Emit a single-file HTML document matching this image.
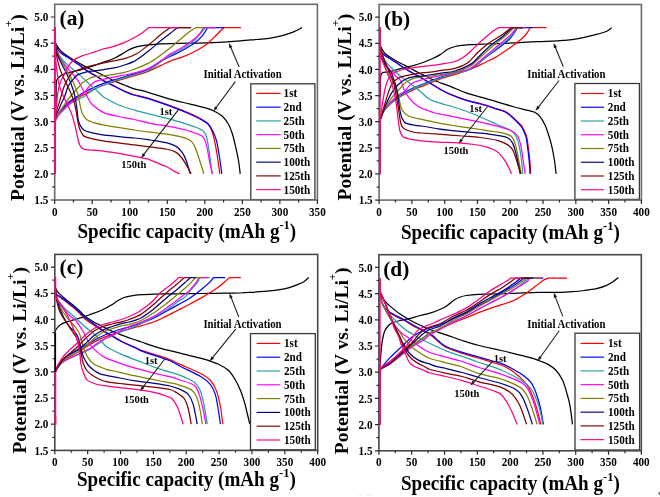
<!DOCTYPE html><html><head><meta charset="utf-8"><style>html,body{margin:0;padding:0;background:#fff;width:660px;height:497px;overflow:hidden}svg{display:block}</style></head><body>
<svg width="660" height="497" viewBox="0 0 660 497" font-family="'Liberation Serif', 'Times New Roman', serif" font-weight="bold" fill="#000">
<defs>
<clipPath id="clipa"><rect x="54.7" y="4.3" width="262.7" height="195.7"/></clipPath>
<clipPath id="clipb"><rect x="379.1" y="4.5" width="262.29999999999995" height="195.6"/></clipPath>
<clipPath id="clipc"><rect x="54.8" y="254.4" width="262.9" height="195.99999999999997"/></clipPath>
<clipPath id="clipd"><rect x="378.9" y="254.7" width="262.4" height="196.10000000000002"/></clipPath>
</defs>
<rect width="660" height="497" fill="#fff"/>
<g clip-path="url(#clipa)"><path d="M55.30 42.50C55.70 43.22 56.85 45.48 57.70 46.80C58.55 48.12 59.03 49.03 60.40 50.40C61.77 51.77 63.78 53.48 65.90 55.00C68.02 56.52 70.40 57.85 73.10 59.50C75.80 61.15 79.62 63.50 82.10 64.90C84.58 66.30 85.50 66.67 88.00 67.90C90.50 69.13 94.07 70.82 97.10 72.30C100.13 73.78 103.17 75.28 106.20 76.80C109.23 78.32 112.27 80.03 115.30 81.40C118.33 82.77 121.37 83.80 124.40 85.00C127.43 86.20 129.57 87.38 133.50 88.60C137.43 89.82 141.90 90.55 148.00 92.30C154.10 94.05 163.07 97.13 170.10 99.10C177.13 101.07 184.17 102.58 190.20 104.10C196.23 105.62 202.27 107.02 206.30 108.20C210.33 109.38 211.72 109.87 214.40 111.20C217.08 112.53 220.05 114.02 222.40 116.20C224.75 118.38 226.82 121.28 228.50 124.30C230.18 127.32 231.33 130.62 232.50 134.30C233.67 137.98 234.50 142.03 235.50 146.40C236.50 150.77 237.72 155.93 238.50 160.50C239.28 165.07 239.92 171.58 240.20 173.80" stroke="#000000" stroke-width="1.25" fill="none" stroke-linejoin="round"/>
<path d="M56.10 107.00C56.10 105.00 56.08 98.67 56.10 95.00C56.12 91.33 56.08 87.50 56.20 85.00C56.32 82.50 56.25 81.38 56.80 80.00C57.35 78.62 58.30 77.70 59.50 76.70C60.70 75.70 61.73 74.83 64.00 74.00C66.27 73.17 70.08 72.47 73.10 71.70C76.12 70.93 79.62 70.13 82.10 69.40C84.58 68.67 85.85 67.95 88.00 67.30C90.15 66.65 93.48 65.97 95.00 65.50C96.52 65.03 95.23 65.18 97.10 64.50C98.97 63.82 103.17 62.53 106.20 61.40C109.23 60.27 112.70 58.92 115.30 57.70C117.90 56.48 119.50 55.42 121.80 54.10C124.10 52.78 126.67 51.02 129.10 49.80C131.53 48.58 133.17 47.63 136.40 46.80C139.63 45.97 144.47 45.30 148.50 44.80C152.53 44.30 155.35 44.03 160.60 43.80C165.85 43.57 172.37 43.57 180.00 43.40C187.63 43.23 197.97 43.10 206.40 42.80C214.83 42.50 223.23 42.08 230.60 41.60C237.97 41.12 245.50 40.32 250.60 39.90C255.70 39.48 257.67 39.45 261.20 39.10C264.73 38.75 268.27 38.37 271.80 37.80C275.33 37.23 278.87 36.63 282.40 35.70C285.93 34.77 289.73 33.55 293.00 32.20C296.27 30.85 300.50 28.37 302.00 27.60" stroke="#000000" stroke-width="1.25" fill="none" stroke-linejoin="round"/>
<path d="M55.00 27.50L55.30 43.50C55.70 44.50 56.55 47.75 57.70 49.50C58.85 51.25 60.38 52.67 62.20 54.00C64.02 55.33 66.03 55.87 68.60 57.50C71.17 59.13 74.37 61.50 77.60 63.80C80.83 66.10 84.75 69.17 88.00 71.30C91.25 73.43 94.07 74.82 97.10 76.60C100.13 78.38 103.17 80.35 106.20 82.00C109.23 83.65 112.27 85.00 115.30 86.50C118.33 88.00 121.37 89.67 124.40 91.00C127.43 92.33 129.57 93.33 133.50 94.50C137.43 95.67 141.90 96.15 148.00 98.00C154.10 99.85 163.07 103.00 170.10 105.60C177.13 108.20 184.83 111.27 190.20 113.60C195.57 115.93 199.27 117.82 202.30 119.60C205.33 121.38 206.72 122.18 208.40 124.30C210.08 126.42 211.07 127.95 212.40 132.30C213.73 136.65 215.17 143.48 216.40 150.40C217.63 157.32 219.23 169.90 219.80 173.80" stroke="#ff0000" stroke-width="1.25" fill="none" stroke-linejoin="round"/>
<path d="M55.00 173.80L55.30 121.00C55.42 120.67 55.52 120.08 56.00 119.00C56.48 117.92 57.37 115.83 58.20 114.50C59.03 113.17 59.93 112.20 61.00 111.00C62.07 109.80 63.42 108.50 64.60 107.30C65.78 106.10 66.93 104.82 68.10 103.80C69.27 102.78 70.43 102.00 71.60 101.20C72.77 100.40 73.93 99.70 75.10 99.00C76.27 98.30 77.12 97.72 78.60 97.00C80.08 96.28 82.43 95.47 84.00 94.70C85.57 93.93 85.82 93.57 88.00 92.40C90.18 91.23 94.07 89.08 97.10 87.70C100.13 86.32 103.17 85.15 106.20 84.10C109.23 83.05 112.27 82.32 115.30 81.40C118.33 80.48 121.37 79.52 124.40 78.60C127.43 77.68 129.57 77.10 133.50 75.90C137.43 74.70 143.48 73.12 148.00 71.40C152.52 69.68 156.48 67.47 160.60 65.60C164.72 63.73 169.12 61.60 172.70 60.20C176.28 58.80 178.52 58.62 182.10 57.20C185.68 55.78 190.15 53.83 194.20 51.70C198.25 49.57 202.75 47.13 206.40 44.40C210.05 41.67 213.48 37.82 216.10 35.30C218.72 32.78 220.78 30.60 222.10 29.30C223.42 28.00 223.68 27.80 224.00 27.50L240.90 27.50" stroke="#ff0000" stroke-width="1.25" fill="none" stroke-linejoin="round"/>
<path d="M55.00 27.50L55.30 43.50C55.70 44.50 56.55 47.75 57.70 49.50C58.85 51.25 60.38 52.63 62.20 54.00C64.02 55.37 66.03 56.03 68.60 57.70C71.17 59.37 74.37 61.70 77.60 64.00C80.83 66.30 84.75 69.37 88.00 71.50C91.25 73.63 94.07 75.00 97.10 76.80C100.13 78.60 103.17 80.63 106.20 82.30C109.23 83.97 112.27 85.28 115.30 86.80C118.33 88.32 121.37 90.03 124.40 91.40C127.43 92.77 129.57 93.80 133.50 95.00C137.43 96.20 141.90 96.73 148.00 98.60C154.10 100.47 163.07 103.60 170.10 106.20C177.13 108.80 184.83 111.87 190.20 114.20C195.57 116.53 199.27 118.52 202.30 120.20C205.33 121.88 206.72 122.62 208.40 124.30C210.08 125.98 211.07 127.62 212.40 130.30C213.73 132.98 215.23 136.03 216.40 140.40C217.57 144.77 218.50 150.93 219.40 156.50C220.30 162.07 221.40 170.92 221.80 173.80" stroke="#0000ff" stroke-width="1.25" fill="none" stroke-linejoin="round"/>
<path d="M55.00 173.80L55.30 121.00C55.42 120.58 55.52 119.70 56.00 118.50C56.48 117.30 57.37 115.22 58.20 113.80C59.03 112.38 59.93 111.25 61.00 110.00C62.07 108.75 63.42 107.50 64.60 106.30C65.78 105.10 66.93 103.85 68.10 102.80C69.27 101.75 70.43 100.83 71.60 100.00C72.77 99.17 73.93 98.53 75.10 97.80C76.27 97.07 77.12 96.52 78.60 95.60C80.08 94.68 82.43 93.18 84.00 92.30C85.57 91.42 85.82 91.37 88.00 90.30C90.18 89.23 94.07 87.23 97.10 85.90C100.13 84.57 103.17 83.37 106.20 82.30C109.23 81.23 112.27 80.42 115.30 79.50C118.33 78.58 121.37 77.70 124.40 76.80C127.43 75.90 129.57 75.32 133.50 74.10C137.43 72.88 143.48 71.62 148.00 69.50C152.52 67.38 156.93 63.57 160.60 61.40C164.27 59.23 166.42 58.32 170.00 56.50C173.58 54.68 178.07 52.72 182.10 50.50C186.13 48.28 190.77 45.73 194.20 43.20C197.63 40.67 200.47 37.92 202.70 35.30C204.93 32.68 206.78 28.80 207.60 27.50L224.00 27.50" stroke="#0000ff" stroke-width="1.25" fill="none" stroke-linejoin="round"/>
<path d="M55.00 27.50L55.30 44.00C55.67 45.33 56.35 49.42 57.50 52.00C58.65 54.58 60.35 57.20 62.20 59.50C64.05 61.80 66.03 63.53 68.60 65.80C71.17 68.07 74.58 70.48 77.60 73.10C80.62 75.72 84.13 79.10 86.70 81.50C89.27 83.90 91.27 85.92 93.00 87.50C94.73 89.08 95.43 89.50 97.10 91.00C98.77 92.50 101.18 95.08 103.00 96.50C104.82 97.92 105.17 98.00 108.00 99.50C110.83 101.00 115.58 103.73 120.00 105.50C124.42 107.27 129.50 108.65 134.50 110.10C139.50 111.55 144.07 112.68 150.00 114.20C155.93 115.72 163.40 117.35 170.10 119.20C176.80 121.05 184.83 123.45 190.20 125.30C195.57 127.15 199.62 128.47 202.30 130.30C204.98 132.13 205.28 133.62 206.30 136.30C207.32 138.98 207.72 142.37 208.40 146.40C209.08 150.43 209.80 155.93 210.40 160.50C211.00 165.07 211.73 171.58 212.00 173.80" stroke="#28a0a0" stroke-width="1.25" fill="none" stroke-linejoin="round"/>
<path d="M55.00 173.80L55.30 121.00C55.42 120.83 55.52 120.83 56.00 120.00C56.48 119.17 57.37 117.25 58.20 116.00C59.03 114.75 59.93 113.67 61.00 112.50C62.07 111.33 63.42 110.15 64.60 109.00C65.78 107.85 66.93 106.60 68.10 105.60C69.27 104.60 70.43 103.80 71.60 103.00C72.77 102.20 73.93 101.47 75.10 100.80C76.27 100.13 77.12 99.72 78.60 99.00C80.08 98.28 82.43 97.43 84.00 96.50C85.57 95.57 85.82 94.83 88.00 93.40C90.18 91.97 94.07 89.45 97.10 87.90C100.13 86.35 103.17 85.33 106.20 84.10C109.23 82.87 112.27 81.57 115.30 80.50C118.33 79.43 118.95 79.37 124.40 77.70C129.85 76.03 141.97 73.12 148.00 70.50C154.03 67.88 156.93 64.50 160.60 62.00C164.27 59.50 166.42 57.67 170.00 55.50C173.58 53.33 178.07 51.50 182.10 49.00C186.13 46.50 191.13 43.08 194.20 40.50C197.27 37.92 198.67 35.67 200.50 33.50C202.33 31.33 204.42 28.50 205.20 27.50L216.00 27.50" stroke="#28a0a0" stroke-width="1.25" fill="none" stroke-linejoin="round"/>
<path d="M55.00 27.50L55.30 44.00C55.67 45.50 56.35 50.12 57.50 53.00C58.65 55.88 60.35 58.57 62.20 61.30C64.05 64.03 66.48 66.83 68.60 69.40C70.72 71.97 73.10 74.43 74.90 76.70C76.70 78.97 78.03 80.78 79.40 83.00C80.77 85.22 82.13 88.33 83.10 90.00C84.07 91.67 84.02 90.98 85.20 93.00C86.38 95.02 88.73 99.92 90.20 102.10C91.67 104.28 91.65 104.32 94.00 106.10C96.35 107.88 100.13 111.07 104.30 112.80C108.47 114.53 114.00 115.38 119.00 116.50C124.00 117.62 129.13 118.37 134.30 119.50C139.47 120.63 144.03 122.10 150.00 123.30C155.97 124.50 163.40 125.37 170.10 126.70C176.80 128.03 184.83 129.70 190.20 131.30C195.57 132.90 199.62 134.12 202.30 136.30C204.98 138.48 205.12 140.37 206.30 144.40C207.48 148.43 208.38 155.60 209.40 160.50C210.42 165.40 211.90 171.58 212.40 173.80" stroke="#ff00ff" stroke-width="1.25" fill="none" stroke-linejoin="round"/>
<path d="M55.00 173.80L55.30 121.00C55.42 120.75 55.52 120.47 56.00 119.50C56.48 118.53 57.37 116.48 58.20 115.20C59.03 113.92 59.93 112.97 61.00 111.80C62.07 110.63 63.42 109.35 64.60 108.20C65.78 107.05 66.93 105.93 68.10 104.90C69.27 103.87 70.43 102.90 71.60 102.00C72.77 101.10 73.93 100.37 75.10 99.50C76.27 98.63 77.12 97.92 78.60 96.80C80.08 95.68 82.43 94.27 84.00 92.80C85.57 91.33 86.58 89.55 88.00 88.00C89.42 86.45 90.98 84.68 92.50 83.50C94.02 82.32 94.82 81.72 97.10 80.90C99.38 80.08 103.17 79.28 106.20 78.60C109.23 77.92 112.27 77.40 115.30 76.80C118.33 76.20 121.37 75.60 124.40 75.00C127.43 74.40 129.57 74.27 133.50 73.20C137.43 72.13 143.48 70.63 148.00 68.60C152.52 66.57 156.93 63.42 160.60 61.00C164.27 58.58 166.42 56.35 170.00 54.10C173.58 51.85 178.07 50.02 182.10 47.50C186.13 44.98 191.17 41.43 194.20 39.00C197.23 36.57 198.78 34.82 200.30 32.90C201.82 30.98 202.80 28.40 203.30 27.50L215.50 27.50" stroke="#ff00ff" stroke-width="1.25" fill="none" stroke-linejoin="round"/>
<path d="M55.00 27.50L55.30 44.00C55.75 45.83 56.88 52.00 58.00 55.00C59.12 58.00 60.68 59.75 62.00 62.00C63.32 64.25 64.50 66.05 65.90 68.50C67.30 70.95 69.05 74.13 70.40 76.70C71.75 79.27 73.02 81.68 74.00 83.90C74.98 86.12 75.62 88.15 76.30 90.00C76.98 91.85 77.47 92.48 78.10 95.00C78.73 97.52 79.43 102.08 80.10 105.10C80.77 108.12 81.08 110.75 82.10 113.10C83.12 115.45 84.22 117.60 86.20 119.20C88.18 120.80 90.98 121.70 94.00 122.70C97.02 123.70 97.55 123.98 104.30 125.20C111.05 126.42 126.88 128.83 134.50 130.00C142.12 131.17 144.07 131.43 150.00 132.20C155.93 132.97 164.07 133.57 170.10 134.60C176.13 135.63 182.50 137.10 186.20 138.40C189.90 139.70 190.62 140.40 192.30 142.40C193.98 144.40 194.97 147.05 196.30 150.40C197.63 153.75 199.03 158.60 200.30 162.50C201.57 166.40 203.30 171.92 203.90 173.80" stroke="#808000" stroke-width="1.25" fill="none" stroke-linejoin="round"/>
<path d="M55.00 173.80L55.30 121.00C55.42 120.42 54.53 120.15 56.00 117.50C57.47 114.85 61.77 108.52 64.10 105.10C66.43 101.68 68.33 99.18 70.00 97.00C71.67 94.82 73.02 93.25 74.10 92.00C75.18 90.75 75.50 90.58 76.50 89.50C77.50 88.42 79.17 86.58 80.10 85.50C81.03 84.42 80.55 84.17 82.10 83.00C83.65 81.83 87.25 79.55 89.40 78.50C91.55 77.45 92.20 77.20 95.00 76.70C97.80 76.20 102.82 75.93 106.20 75.50C109.58 75.07 112.27 74.63 115.30 74.10C118.33 73.57 121.37 73.07 124.40 72.30C127.43 71.53 129.57 70.98 133.50 69.50C137.43 68.02 143.48 65.77 148.00 63.40C152.52 61.03 156.93 57.85 160.60 55.30C164.27 52.75 166.42 51.02 170.00 48.10C173.58 45.18 178.87 40.53 182.10 37.80C185.33 35.07 187.07 33.42 189.40 31.70C191.73 29.98 194.98 28.20 196.10 27.50L206.00 27.50" stroke="#808000" stroke-width="1.25" fill="none" stroke-linejoin="round"/>
<path d="M55.00 27.50L55.30 44.00C55.67 45.83 56.35 51.52 57.50 55.00C58.65 58.48 60.65 61.73 62.20 64.90C63.75 68.07 65.43 71.13 66.80 74.00C68.17 76.87 69.45 79.77 70.40 82.10C71.35 84.43 71.88 86.18 72.50 88.00C73.12 89.82 73.58 90.98 74.10 93.00C74.62 95.02 75.10 97.25 75.60 100.10C76.10 102.95 76.68 106.92 77.10 110.10C77.52 113.28 77.60 116.68 78.10 119.20C78.60 121.72 79.08 123.37 80.10 125.20C81.12 127.03 81.88 128.87 84.20 130.20C86.52 131.53 90.65 132.37 94.00 133.20C97.35 134.03 97.55 134.40 104.30 135.20C111.05 136.00 126.88 137.20 134.50 138.00C142.12 138.80 144.73 139.23 150.00 140.00C155.27 140.77 161.73 141.53 166.10 142.60C170.47 143.67 173.52 144.77 176.20 146.40C178.88 148.03 180.53 150.05 182.20 152.40C183.87 154.75 184.87 156.93 186.20 160.50C187.53 164.07 189.53 171.58 190.20 173.80" stroke="#000080" stroke-width="1.25" fill="none" stroke-linejoin="round"/>
<path d="M55.00 173.80L55.30 121.00C55.42 120.03 55.47 117.03 56.00 115.20C56.53 113.37 57.67 111.83 58.50 110.00C59.33 108.17 59.98 106.45 61.00 104.20C62.02 101.95 63.53 99.20 64.60 96.50C65.67 93.80 66.58 90.08 67.40 88.00C68.22 85.92 68.55 85.43 69.50 84.00C70.45 82.57 71.75 80.92 73.10 79.40C74.45 77.88 75.33 76.17 77.60 74.90C79.87 73.63 83.80 72.48 86.70 71.80C89.60 71.12 91.75 71.25 95.00 70.80C98.25 70.35 102.82 69.62 106.20 69.10C109.58 68.58 112.27 68.38 115.30 67.70C118.33 67.02 121.37 66.02 124.40 65.00C127.43 63.98 130.90 62.85 133.50 61.60C136.10 60.35 137.50 59.25 140.00 57.50C142.50 55.75 145.07 53.88 148.50 51.10C151.93 48.32 157.02 43.73 160.60 40.80C164.18 37.87 167.17 35.72 170.00 33.50C172.83 31.28 176.33 28.50 177.60 27.50L191.00 27.50" stroke="#000080" stroke-width="1.25" fill="none" stroke-linejoin="round"/>
<path d="M55.00 27.50L55.30 44.00C55.50 45.83 55.80 51.07 56.50 55.00C57.20 58.93 58.40 63.98 59.50 67.60C60.60 71.22 61.88 73.88 63.10 76.70C64.32 79.52 65.73 82.28 66.80 84.50C67.87 86.72 68.70 88.25 69.50 90.00C70.30 91.75 70.83 92.98 71.60 95.00C72.37 97.02 73.35 99.42 74.10 102.10C74.85 104.78 75.52 108.08 76.10 111.10C76.68 114.12 77.10 117.52 77.60 120.20C78.10 122.88 78.37 124.98 79.10 127.20C79.83 129.42 80.82 131.83 82.00 133.50C83.18 135.17 82.48 135.92 86.20 137.20C89.92 138.48 96.25 139.92 104.30 141.20C112.35 142.48 126.88 143.95 134.50 144.90C142.12 145.85 144.73 146.22 150.00 146.90C155.27 147.58 161.73 148.08 166.10 149.00C170.47 149.92 173.52 150.82 176.20 152.40C178.88 153.98 180.37 156.15 182.20 158.50C184.03 160.85 185.70 163.95 187.20 166.50C188.70 169.05 190.53 172.58 191.20 173.80" stroke="#800000" stroke-width="1.25" fill="none" stroke-linejoin="round"/>
<path d="M55.00 173.80L55.30 121.00C55.42 119.68 55.22 116.58 56.00 113.10C56.78 109.62 58.65 104.53 60.00 100.10C61.35 95.67 62.67 90.25 64.10 86.50C65.53 82.75 67.10 80.00 68.60 77.60C70.10 75.20 70.85 73.62 73.10 72.10C75.35 70.58 79.62 69.43 82.10 68.50C84.58 67.57 85.85 67.10 88.00 66.50C90.15 65.90 91.97 65.60 95.00 64.90C98.03 64.20 101.30 63.35 106.20 62.30C111.10 61.25 119.40 59.98 124.40 58.60C129.40 57.22 132.18 56.27 136.20 54.00C140.22 51.73 144.43 48.22 148.50 45.00C152.57 41.78 156.97 37.62 160.60 34.70C164.23 31.78 168.68 28.70 170.30 27.50L191.20 27.50" stroke="#800000" stroke-width="1.25" fill="none" stroke-linejoin="round"/>
<path d="M55.00 27.50L55.30 44.00C55.38 46.67 55.55 55.67 55.80 60.00C56.05 64.33 56.48 67.22 56.80 70.00C57.12 72.78 57.32 74.23 57.70 76.70C58.08 79.17 58.38 82.08 59.10 84.80C59.82 87.52 61.00 90.45 62.00 93.00C63.00 95.55 63.92 97.58 65.10 100.10C66.28 102.62 67.93 105.58 69.10 108.10C70.27 110.62 71.27 112.85 72.10 115.20C72.93 117.55 73.52 120.03 74.10 122.20C74.68 124.37 75.10 126.07 75.60 128.20C76.10 130.33 76.65 132.95 77.10 135.00C77.55 137.05 77.82 138.75 78.30 140.50C78.78 142.25 79.35 144.20 80.00 145.50C80.65 146.80 81.37 147.63 82.20 148.30C83.03 148.97 84.00 149.23 85.00 149.50C86.00 149.77 84.98 149.60 88.20 149.90C91.42 150.20 98.27 150.57 104.30 151.30C110.33 152.03 117.70 153.12 124.40 154.30C131.10 155.48 140.23 157.48 144.50 158.40C148.77 159.32 147.32 158.80 150.00 159.80C152.68 160.80 157.92 163.28 160.60 164.40C163.28 165.52 163.75 165.33 166.10 166.50C168.45 167.67 172.47 170.18 174.70 171.40C176.93 172.62 178.70 173.40 179.50 173.80" stroke="#ff0080" stroke-width="1.25" fill="none" stroke-linejoin="round"/>
<path d="M55.00 173.80L55.30 121.00C55.42 119.18 55.72 113.58 56.00 110.10C56.28 106.62 56.67 103.12 57.00 100.10C57.33 97.08 57.58 94.52 58.00 92.00C58.42 89.48 58.92 87.08 59.50 85.00C60.08 82.92 60.75 81.18 61.50 79.50C62.25 77.82 62.82 77.18 64.00 74.90C65.18 72.62 67.08 68.22 68.60 65.80C70.12 63.38 70.85 62.05 73.10 60.40C75.35 58.75 78.45 57.33 82.10 55.90C85.75 54.47 91.68 52.87 95.00 51.80C98.32 50.73 99.15 50.33 102.00 49.50C104.85 48.67 108.40 47.95 112.10 46.80C115.80 45.65 120.15 44.32 124.20 42.60C128.25 40.88 133.17 38.32 136.40 36.50C139.63 34.68 141.48 33.20 143.60 31.70C145.72 30.20 148.18 28.20 149.10 27.50L178.00 27.50" stroke="#ff0080" stroke-width="1.25" fill="none" stroke-linejoin="round"/></g>
<rect x="250.8" y="83.8" width="64.10" height="115.80" fill="#fff" stroke="#3a3a3a" stroke-width="1.3"/>
<path d="M256.20 93.40H280.70" stroke="#ff0000" stroke-width="1.15"/>
<text transform="translate(283.60,97.30) scale(1,1.07)" font-size="11.2">1st</text>
<path d="M256.20 107.15H280.70" stroke="#0000ff" stroke-width="1.15"/>
<text transform="translate(283.60,111.05) scale(1,1.07)" font-size="11.2">2nd</text>
<path d="M256.20 120.90H280.70" stroke="#28a0a0" stroke-width="1.15"/>
<text transform="translate(283.60,124.80) scale(1,1.07)" font-size="11.2">25th</text>
<path d="M256.20 134.65H280.70" stroke="#ff00ff" stroke-width="1.15"/>
<text transform="translate(283.60,138.55) scale(1,1.07)" font-size="11.2">50th</text>
<path d="M256.20 148.40H280.70" stroke="#808000" stroke-width="1.15"/>
<text transform="translate(283.60,152.30) scale(1,1.07)" font-size="11.2">75th</text>
<path d="M256.20 162.15H280.70" stroke="#000080" stroke-width="1.15"/>
<text transform="translate(283.60,166.05) scale(1,1.07)" font-size="11.2">100th</text>
<path d="M256.20 175.90H280.70" stroke="#800000" stroke-width="1.15"/>
<text transform="translate(283.60,179.80) scale(1,1.07)" font-size="11.2">125th</text>
<path d="M256.20 189.65H280.70" stroke="#ff0080" stroke-width="1.15"/>
<text transform="translate(283.60,193.55) scale(1,1.07)" font-size="11.2">150th</text>
<text transform="translate(203.5,78.1) scale(1,1.07)" font-size="10.8">Initial Activation</text>
<path d="M239.20 67.00L230.48 46.68" stroke="#1a1a1a" stroke-width="1.05" fill="none"/><path d="M228.90 43.00L232.43 46.92L229.31 48.27Z" fill="#1a1a1a"/>
<path d="M235.30 81.60L215.78 107.98" stroke="#1a1a1a" stroke-width="1.05" fill="none"/><path d="M213.40 111.20L215.01 106.17L217.74 108.19Z" fill="#1a1a1a"/>
<path d="M178.70 109.40L143.45 154.94" stroke="#1a1a1a" stroke-width="1.05" fill="none"/><path d="M141.00 158.10L142.72 153.11L145.40 155.19Z" fill="#1a1a1a"/>
<text transform="translate(159.5,115.4) scale(1,1.07)" font-size="10.5">1st</text>
<text transform="translate(121.3,167.8) scale(1,1.07)" font-size="10.5">150th</text>
<rect x="54.70" y="4.30" width="262.70" height="195.70" fill="none" stroke="#6c6c6c" stroke-width="1.6"/>
<path d="M54.70 200.00v3.9M73.46 200.00v2.4M92.23 200.00v3.9M110.99 200.00v2.4M129.76 200.00v3.9M148.52 200.00v2.4M167.29 200.00v3.9M186.05 200.00v2.4M204.81 200.00v3.9M223.58 200.00v2.4M242.34 200.00v3.9M261.11 200.00v2.4M279.87 200.00v3.9M298.64 200.00v2.4M317.40 200.00v3.9M54.70 200.00h-3.9M54.70 186.93h-2.4M54.70 173.86h-3.9M54.70 160.79h-2.4M54.70 147.71h-3.9M54.70 134.64h-2.4M54.70 121.57h-3.9M54.70 108.50h-2.4M54.70 95.43h-3.9M54.70 82.36h-2.4M54.70 69.29h-3.9M54.70 56.21h-2.4M54.70 43.14h-3.9M54.70 30.07h-2.4M54.70 17.00h-3.9" stroke="#2a2a2a" stroke-width="1.2" fill="none"/>
<path d="M55.0 27.5V174.3" stroke="#ff0080" stroke-width="1.7" fill="none"/>
<path d="M55.0 166.3V174.3" stroke="#c02080" stroke-width="1.7" fill="none"/>
<g font-size="11.2"><text transform="translate(54.70,215.70) scale(1,1.08)" text-anchor="middle">0</text><text transform="translate(92.23,215.70) scale(1,1.08)" text-anchor="middle">50</text><text transform="translate(129.76,215.70) scale(1,1.08)" text-anchor="middle">100</text><text transform="translate(167.29,215.70) scale(1,1.08)" text-anchor="middle">150</text><text transform="translate(204.81,215.70) scale(1,1.08)" text-anchor="middle">200</text><text transform="translate(242.34,215.70) scale(1,1.08)" text-anchor="middle">250</text><text transform="translate(279.87,215.70) scale(1,1.08)" text-anchor="middle">300</text><text transform="translate(317.40,215.70) scale(1,1.08)" text-anchor="middle">350</text><text transform="translate(48.30,204.10) scale(1,1.08)" text-anchor="end">1.5</text><text transform="translate(48.30,177.96) scale(1,1.08)" text-anchor="end">2.0</text><text transform="translate(48.30,151.81) scale(1,1.08)" text-anchor="end">2.5</text><text transform="translate(48.30,125.67) scale(1,1.08)" text-anchor="end">3.0</text><text transform="translate(48.30,99.53) scale(1,1.08)" text-anchor="end">3.5</text><text transform="translate(48.30,73.39) scale(1,1.08)" text-anchor="end">4.0</text><text transform="translate(48.30,47.24) scale(1,1.08)" text-anchor="end">4.5</text><text transform="translate(48.30,21.10) scale(1,1.08)" text-anchor="end">5.0</text></g>
<text transform="translate(24.3,200.9) rotate(-90) scale(1.06,1)" font-size="18.4">Potential (V vs. Li/Li<tspan font-size="11" dy="-12" dx="-0.1">+</tspan><tspan dy="12" dx="-0.4">)</tspan></text>
<text transform="translate(77.4,237.9) scale(1,1.05)" font-size="19.1">Specific capacity (mAh g<tspan font-size="12.5" dy="-8.5">-1</tspan><tspan dy="8.5">)</tspan></text>
<text font-size="21" transform="translate(59.5,25.3) scale(1.02,0.98)">(a)</text>
<g clip-path="url(#clipb)"><path d="M379.60 42.50C379.75 43.08 379.83 44.45 380.50 46.00C381.17 47.55 382.53 50.30 383.60 51.80C384.67 53.30 385.63 54.00 386.90 55.00C388.17 56.00 389.33 56.63 391.20 57.80C393.07 58.97 395.80 60.73 398.10 62.00C400.40 63.27 402.33 64.00 405.00 65.40C407.67 66.80 411.08 68.82 414.10 70.40C417.12 71.98 420.08 73.38 423.10 74.90C426.12 76.42 429.18 78.13 432.20 79.50C435.22 80.87 438.18 81.97 441.20 83.10C444.22 84.23 446.25 84.72 450.30 86.30C454.35 87.88 460.45 90.80 465.50 92.60C470.55 94.40 475.33 95.57 480.60 97.10C485.87 98.63 491.50 100.15 497.10 101.80C502.70 103.45 509.07 105.57 514.20 107.00C519.33 108.43 524.48 109.52 527.90 110.40C531.32 111.28 532.72 111.30 534.70 112.30C536.68 113.30 538.08 114.30 539.80 116.40C541.52 118.50 543.57 121.92 545.00 124.90C546.43 127.88 547.27 130.73 548.40 134.30C549.53 137.87 550.80 142.02 551.80 146.30C552.80 150.58 553.68 155.42 554.40 160.00C555.12 164.58 555.82 171.50 556.10 173.80" stroke="#000000" stroke-width="1.25" fill="none" stroke-linejoin="round"/>
<path d="M380.40 97.00C380.40 94.58 380.35 86.00 380.40 82.50C380.45 79.00 380.35 77.63 380.70 76.00C381.05 74.37 381.27 73.40 382.50 72.70C383.73 72.00 386.00 72.20 388.10 71.80C390.20 71.40 392.28 71.02 395.10 70.30C397.92 69.58 401.83 68.32 405.00 67.50C408.17 66.68 411.08 66.23 414.10 65.40C417.12 64.57 420.08 63.60 423.10 62.50C426.12 61.40 429.35 60.12 432.20 58.80C435.05 57.48 437.62 56.18 440.20 54.60C442.78 53.02 445.18 50.65 447.70 49.30C450.22 47.95 452.77 47.17 455.30 46.50C457.83 45.83 460.37 45.62 462.90 45.30C465.43 44.98 466.72 44.82 470.50 44.60C474.28 44.38 480.55 44.18 485.60 44.00C490.65 43.82 495.73 43.70 500.80 43.50C505.87 43.30 509.90 43.10 516.00 42.80C522.10 42.50 531.18 41.97 537.40 41.70C543.62 41.43 548.70 41.43 553.30 41.20C557.90 40.97 561.87 40.57 565.00 40.30C568.13 40.03 568.90 40.08 572.10 39.60C575.30 39.12 580.15 38.27 584.20 37.40C588.25 36.53 592.97 35.30 596.40 34.40C599.83 33.50 602.78 32.70 604.80 32.00C606.82 31.30 607.38 30.92 608.50 30.20C609.62 29.48 611.00 28.12 611.50 27.70" stroke="#000000" stroke-width="1.25" fill="none" stroke-linejoin="round"/>
<path d="M379.60 27.60L379.60 44.00C379.67 45.00 379.33 48.25 380.00 50.00C380.67 51.75 381.73 52.97 383.60 54.50C385.47 56.03 388.78 57.65 391.20 59.20C393.62 60.75 395.80 62.28 398.10 63.80C400.40 65.32 402.33 66.65 405.00 68.30C407.67 69.95 411.08 71.97 414.10 73.70C417.12 75.43 420.08 76.95 423.10 78.70C426.12 80.45 429.18 82.38 432.20 84.20C435.22 86.02 438.18 87.95 441.20 89.60C444.22 91.25 446.25 92.40 450.30 94.10C454.35 95.80 460.45 98.22 465.50 99.80C470.55 101.38 475.35 102.10 480.60 103.60C485.85 105.10 492.97 107.50 497.00 108.80C501.03 110.10 502.50 110.30 504.80 111.40C507.10 112.50 508.77 113.77 510.80 115.40C512.83 117.03 515.17 119.40 517.00 121.20C518.83 123.00 520.47 124.32 521.80 126.20C523.13 128.08 524.15 130.58 525.00 132.50C525.85 134.42 526.30 134.83 526.90 137.70C527.50 140.57 528.07 145.42 528.60 149.70C529.13 153.98 529.75 159.38 530.10 163.40C530.45 167.42 530.60 172.07 530.70 173.80" stroke="#ff0000" stroke-width="1.25" fill="none" stroke-linejoin="round"/>
<path d="M379.60 173.80L379.60 121.50C380.27 119.83 381.92 114.33 383.60 111.50C385.28 108.67 387.48 106.58 389.70 104.50C391.92 102.42 394.35 100.75 396.90 99.00C399.45 97.25 402.13 95.60 405.00 94.00C407.87 92.40 411.08 90.77 414.10 89.40C417.12 88.03 420.08 87.00 423.10 85.80C426.12 84.60 429.18 83.40 432.20 82.20C435.22 81.00 437.40 79.90 441.20 78.60C445.00 77.30 450.12 75.97 455.00 74.40C459.88 72.83 465.40 71.23 470.50 69.20C475.60 67.17 481.52 64.13 485.60 62.20C489.68 60.27 491.67 59.50 495.00 57.60C498.33 55.70 502.07 53.18 505.60 50.80C509.13 48.42 513.20 45.60 516.20 43.30C519.20 41.00 521.65 38.93 523.60 37.00C525.55 35.07 526.83 33.27 527.90 31.70C528.97 30.13 529.65 28.28 530.00 27.60L546.40 27.60" stroke="#ff0000" stroke-width="1.25" fill="none" stroke-linejoin="round"/>
<path d="M379.60 27.60L379.60 44.00C379.67 45.00 379.33 48.25 380.00 50.00C380.67 51.75 381.73 52.93 383.60 54.50C385.47 56.07 388.78 57.82 391.20 59.40C393.62 60.98 395.80 62.47 398.10 64.00C400.40 65.53 402.33 66.93 405.00 68.60C407.67 70.27 411.08 72.27 414.10 74.00C417.12 75.73 420.08 77.25 423.10 79.00C426.12 80.75 429.18 82.67 432.20 84.50C435.22 86.33 438.18 88.33 441.20 90.00C444.22 91.67 446.25 92.80 450.30 94.50C454.35 96.20 460.45 98.62 465.50 100.20C470.55 101.78 475.35 102.50 480.60 104.00C485.85 105.50 492.97 107.90 497.00 109.20C501.03 110.50 502.50 110.67 504.80 111.80C507.10 112.93 508.77 114.30 510.80 116.00C512.83 117.70 515.22 120.17 517.00 122.00C518.78 123.83 520.25 125.17 521.50 127.00C522.75 128.83 523.72 131.22 524.50 133.00C525.28 134.78 525.63 134.92 526.20 137.70C526.77 140.48 527.37 145.42 527.90 149.70C528.43 153.98 529.05 159.38 529.40 163.40C529.75 167.42 529.90 172.07 530.00 173.80" stroke="#0000ff" stroke-width="1.25" fill="none" stroke-linejoin="round"/>
<path d="M379.60 173.80L379.60 121.50C380.27 119.75 381.92 114.00 383.60 111.00C385.28 108.00 387.48 105.67 389.70 103.50C391.92 101.33 394.35 99.90 396.90 98.00C399.45 96.10 402.13 93.83 405.00 92.10C407.87 90.37 411.08 88.95 414.10 87.60C417.12 86.25 420.08 85.20 423.10 84.00C426.12 82.80 429.18 81.53 432.20 80.40C435.22 79.27 437.40 78.43 441.20 77.20C445.00 75.97 450.12 74.37 455.00 73.00C459.88 71.63 465.40 71.57 470.50 69.00C475.60 66.43 480.55 61.40 485.60 57.60C490.65 53.80 496.77 49.35 500.80 46.20C504.83 43.05 507.28 41.35 509.80 38.70C512.32 36.05 514.60 32.15 515.90 30.30C517.20 28.45 517.32 28.05 517.60 27.60L532.60 27.60" stroke="#0000ff" stroke-width="1.25" fill="none" stroke-linejoin="round"/>
<path d="M379.60 27.60L379.60 44.00C379.83 45.33 380.08 49.18 381.00 52.00C381.92 54.82 383.40 58.32 385.10 60.90C386.80 63.48 389.05 65.32 391.20 67.50C393.35 69.68 395.70 72.00 398.00 74.00C400.30 76.00 402.32 77.38 405.00 79.50C407.68 81.62 411.35 84.53 414.10 86.70C416.85 88.87 419.25 90.63 421.50 92.50C423.75 94.37 425.32 96.37 427.60 97.90C429.88 99.43 431.42 100.35 435.20 101.70C438.98 103.05 445.25 104.45 450.30 106.00C455.35 107.55 460.45 109.17 465.50 111.00C470.55 112.83 475.35 114.75 480.60 117.00C485.85 119.25 491.97 122.25 497.00 124.50C502.03 126.75 507.65 128.58 510.80 130.50C513.95 132.42 514.48 133.37 515.90 136.00C517.32 138.63 518.30 141.73 519.30 146.30C520.30 150.87 521.35 158.82 521.90 163.40C522.45 167.98 522.48 172.07 522.60 173.80" stroke="#28a0a0" stroke-width="1.25" fill="none" stroke-linejoin="round"/>
<path d="M379.60 173.80L379.60 121.50C380.27 119.83 381.92 114.42 383.60 111.50C385.28 108.58 387.48 106.17 389.70 104.00C391.92 101.83 394.35 100.33 396.90 98.50C399.45 96.67 402.13 94.72 405.00 93.00C407.87 91.28 411.08 89.62 414.10 88.20C417.12 86.78 420.08 85.70 423.10 84.50C426.12 83.30 429.18 82.12 432.20 81.00C435.22 79.88 437.40 79.05 441.20 77.80C445.00 76.55 450.12 74.92 455.00 73.50C459.88 72.08 465.40 71.97 470.50 69.30C475.60 66.63 480.55 61.55 485.60 57.50C490.65 53.45 496.77 48.33 500.80 45.00C504.83 41.67 507.27 40.08 509.80 37.50C512.33 34.92 514.80 31.15 516.00 29.50C517.20 27.85 516.83 27.92 517.00 27.60L524.00 27.60" stroke="#28a0a0" stroke-width="1.25" fill="none" stroke-linejoin="round"/>
<path d="M379.60 27.60L379.60 44.00C379.83 45.83 380.10 51.83 381.00 55.00C381.90 58.17 383.50 60.50 385.00 63.00C386.50 65.50 388.33 67.92 390.00 70.00C391.67 72.08 393.25 73.75 395.00 75.50C396.75 77.25 398.97 78.13 400.50 80.50C402.03 82.87 402.78 86.82 404.20 89.70C405.62 92.58 407.20 95.42 409.00 97.80C410.80 100.18 412.88 102.25 415.00 104.00C417.12 105.75 419.60 107.22 421.70 108.30C423.80 109.38 425.35 109.72 427.60 110.50C429.85 111.28 431.42 112.07 435.20 113.00C438.98 113.93 445.25 115.08 450.30 116.10C455.35 117.12 460.45 118.10 465.50 119.10C470.55 120.10 475.35 120.92 480.60 122.10C485.85 123.28 491.95 124.80 497.00 126.20C502.05 127.60 507.52 128.95 510.90 130.50C514.28 132.05 515.62 132.87 517.30 135.50C518.98 138.13 519.95 141.65 521.00 146.30C522.05 150.95 522.88 158.82 523.60 163.40C524.32 167.98 525.02 172.07 525.30 173.80" stroke="#ff00ff" stroke-width="1.25" fill="none" stroke-linejoin="round"/>
<path d="M379.60 173.80L379.60 121.50C380.27 119.75 381.92 114.10 383.60 111.00C385.28 107.90 387.48 105.32 389.70 102.90C391.92 100.48 394.85 98.15 396.90 96.50C398.95 94.85 400.65 93.92 402.00 93.00C403.35 92.08 403.75 92.25 405.00 91.00C406.25 89.75 407.98 86.97 409.50 85.50C411.02 84.03 411.83 83.20 414.10 82.20C416.37 81.20 420.08 80.33 423.10 79.50C426.12 78.67 429.18 77.88 432.20 77.20C435.22 76.52 437.40 76.15 441.20 75.40C445.00 74.65 450.12 73.90 455.00 72.70C459.88 71.50 465.40 70.97 470.50 68.20C475.60 65.43 480.55 60.27 485.60 56.10C490.65 51.93 496.77 46.62 500.80 43.20C504.83 39.78 507.15 38.20 509.80 35.60C512.45 33.00 515.55 28.93 516.70 27.60L525.80 27.60" stroke="#ff00ff" stroke-width="1.25" fill="none" stroke-linejoin="round"/>
<path d="M379.60 27.60L379.60 44.00C379.83 46.00 380.02 52.00 381.00 56.00C381.98 60.00 384.00 64.67 385.50 68.00C387.00 71.33 388.58 73.33 390.00 76.00C391.42 78.67 392.75 81.33 394.00 84.00C395.25 86.67 396.62 89.45 397.50 92.00C398.38 94.55 398.70 96.67 399.30 99.30C399.90 101.93 400.28 105.58 401.10 107.80C401.92 110.02 402.88 111.20 404.20 112.60C405.52 114.00 407.20 115.30 409.00 116.20C410.80 117.10 412.88 117.48 415.00 118.00C417.12 118.52 417.87 118.50 421.70 119.30C425.53 120.10 433.23 121.85 438.00 122.80C442.77 123.75 445.72 124.23 450.30 125.00C454.88 125.77 460.45 126.65 465.50 127.40C470.55 128.15 475.33 128.73 480.60 129.50C485.87 130.27 492.63 131.20 497.10 132.00C501.57 132.80 504.83 133.35 507.40 134.30C509.97 135.25 511.08 135.70 512.50 137.70C513.92 139.70 514.77 142.02 515.90 146.30C517.03 150.58 518.45 158.82 519.30 163.40C520.15 167.98 520.72 172.07 521.00 173.80" stroke="#808000" stroke-width="1.25" fill="none" stroke-linejoin="round"/>
<path d="M379.60 173.80L379.60 121.50C380.27 119.82 381.92 114.90 383.60 111.40C385.28 107.90 387.68 103.52 389.70 100.50C391.72 97.48 393.70 95.63 395.70 93.30C397.70 90.97 400.15 88.22 401.70 86.50C403.25 84.78 403.78 84.00 405.00 83.00C406.22 82.00 407.48 81.32 409.00 80.50C410.52 79.68 411.75 78.73 414.10 78.10C416.45 77.47 420.08 77.08 423.10 76.70C426.12 76.32 429.18 76.17 432.20 75.80C435.22 75.43 437.40 75.10 441.20 74.50C445.00 73.90 450.12 73.63 455.00 72.20C459.88 70.77 465.40 69.22 470.50 65.90C475.60 62.58 480.55 56.72 485.60 52.30C490.65 47.88 497.07 42.53 500.80 39.40C504.53 36.27 505.80 35.47 508.00 33.50C510.20 31.53 513.00 28.58 514.00 27.60L524.00 27.60" stroke="#808000" stroke-width="1.25" fill="none" stroke-linejoin="round"/>
<path d="M379.60 27.60L379.60 44.00C379.83 46.00 379.93 52.33 381.00 56.00C382.07 59.67 384.32 63.25 386.00 66.00C387.68 68.75 389.77 70.17 391.10 72.50C392.43 74.83 393.13 77.55 394.00 80.00C394.87 82.45 395.62 84.18 396.30 87.20C396.98 90.22 397.50 94.27 398.10 98.10C398.70 101.93 399.30 106.98 399.90 110.20C400.50 113.42 400.78 115.28 401.70 117.40C402.62 119.52 403.18 121.58 405.40 122.90C407.62 124.22 412.28 124.78 415.00 125.30C417.72 125.82 417.87 125.42 421.70 126.00C425.53 126.58 433.23 128.08 438.00 128.80C442.77 129.52 445.72 129.80 450.30 130.30C454.88 130.80 460.45 131.32 465.50 131.80C470.55 132.28 475.33 132.62 480.60 133.20C485.87 133.78 492.63 134.55 497.10 135.30C501.57 136.05 504.83 136.43 507.40 137.70C509.97 138.97 511.08 140.33 512.50 142.90C513.92 145.47 514.90 149.40 515.90 153.10C516.90 156.80 517.78 161.65 518.50 165.10C519.22 168.55 519.92 172.35 520.20 173.80" stroke="#000080" stroke-width="1.25" fill="none" stroke-linejoin="round"/>
<path d="M379.60 173.80L379.60 121.50C380.07 120.22 381.13 117.10 382.40 113.80C383.67 110.50 385.58 105.32 387.20 101.70C388.82 98.08 390.28 94.92 392.10 92.10C393.92 89.28 395.95 86.90 398.10 84.80C400.25 82.70 402.33 80.85 405.00 79.50C407.67 78.15 411.08 77.32 414.10 76.70C417.12 76.08 420.08 76.17 423.10 75.80C426.12 75.43 429.18 74.95 432.20 74.50C435.22 74.05 437.40 73.68 441.20 73.10C445.00 72.52 450.12 72.45 455.00 71.00C459.88 69.55 466.67 66.65 470.50 64.40C474.33 62.15 475.48 59.90 478.00 57.50C480.52 55.10 483.10 52.33 485.60 50.00C488.10 47.67 490.47 45.52 493.00 43.50C495.53 41.48 498.47 39.73 500.80 37.90C503.13 36.07 505.05 34.22 507.00 32.50C508.95 30.78 511.58 28.42 512.50 27.60L522.60 27.60" stroke="#000080" stroke-width="1.25" fill="none" stroke-linejoin="round"/>
<path d="M379.60 27.60L379.60 44.00C380.10 45.83 381.38 51.28 382.60 55.00C383.82 58.72 385.48 62.78 386.90 66.30C388.32 69.82 389.98 73.48 391.10 76.10C392.22 78.72 392.93 79.73 393.60 82.00C394.27 84.27 394.55 86.82 395.10 89.70C395.65 92.58 396.30 95.88 396.90 99.30C397.50 102.72 398.20 106.98 398.70 110.20C399.20 113.42 399.40 115.98 399.90 118.60C400.40 121.22 400.78 124.08 401.70 125.90C402.62 127.72 403.18 128.40 405.40 129.50C407.62 130.60 412.28 131.92 415.00 132.50C417.72 133.08 417.87 132.72 421.70 133.00C425.53 133.28 431.25 133.70 438.00 134.20C444.75 134.70 455.20 135.45 462.20 136.00C469.20 136.55 474.18 136.78 480.00 137.50C485.82 138.22 492.53 139.12 497.10 140.30C501.67 141.48 504.83 143.03 507.40 144.60C509.97 146.17 511.08 147.43 512.50 149.70C513.92 151.97 514.90 155.35 515.90 158.20C516.90 161.05 517.65 164.20 518.50 166.80C519.35 169.40 520.58 172.63 521.00 173.80" stroke="#800000" stroke-width="1.25" fill="none" stroke-linejoin="round"/>
<path d="M379.60 173.80L379.60 121.50C379.87 120.62 380.33 119.08 381.20 116.20C382.07 113.32 383.58 108.22 384.80 104.20C386.02 100.18 387.28 95.53 388.50 92.10C389.72 88.67 390.50 85.92 392.10 83.60C393.70 81.28 395.95 79.50 398.10 78.20C400.25 76.90 402.33 76.50 405.00 75.80C407.67 75.10 411.08 74.52 414.10 74.00C417.12 73.48 420.08 73.07 423.10 72.70C426.12 72.33 429.18 72.18 432.20 71.80C435.22 71.42 437.40 70.97 441.20 70.40C445.00 69.83 450.63 69.65 455.00 68.40C459.37 67.15 463.57 65.58 467.40 62.90C471.23 60.22 474.47 55.58 478.00 52.30C481.53 49.02 484.80 45.98 488.60 43.20C492.40 40.42 497.00 38.20 500.80 35.60C504.60 33.00 509.63 28.93 511.40 27.60L522.60 27.60" stroke="#800000" stroke-width="1.25" fill="none" stroke-linejoin="round"/>
<path d="M379.60 27.60L379.60 44.00C379.75 45.80 379.93 51.80 380.50 54.80C381.07 57.80 382.08 59.47 383.00 62.00C383.92 64.53 385.08 67.67 386.00 70.00C386.92 72.33 387.78 74.33 388.50 76.00C389.22 77.67 389.60 78.13 390.30 80.00C391.00 81.87 392.00 84.78 392.70 87.20C393.40 89.62 393.90 91.67 394.50 94.50C395.10 97.33 395.80 100.98 396.30 104.20C396.80 107.42 397.10 110.58 397.50 113.80C397.90 117.02 398.30 120.68 398.70 123.50C399.10 126.32 399.20 128.48 399.90 130.70C400.60 132.92 401.18 135.38 402.90 136.80C404.62 138.22 407.07 138.53 410.20 139.20C413.33 139.87 417.07 140.32 421.70 140.80C426.33 141.28 431.87 141.75 438.00 142.10C444.13 142.45 452.47 142.50 458.50 142.90C464.53 143.30 469.57 143.83 474.20 144.50C478.83 145.17 483.33 146.15 486.30 146.90C489.27 147.65 489.92 147.97 492.00 149.00C494.08 150.03 496.53 150.98 498.80 153.10C501.07 155.22 503.47 158.25 505.60 161.70C507.73 165.15 510.60 171.78 511.60 173.80" stroke="#ff0080" stroke-width="1.25" fill="none" stroke-linejoin="round"/>
<path d="M379.60 173.80L379.60 121.50C379.72 120.92 379.83 120.88 380.30 118.00C380.77 115.12 381.65 108.87 382.40 104.20C383.15 99.53 384.03 93.70 384.80 90.00C385.57 86.30 386.22 84.17 387.00 82.00C387.78 79.83 388.67 78.33 389.50 77.00C390.33 75.67 390.92 74.83 392.00 74.00C393.08 73.17 393.83 72.83 396.00 72.00C398.17 71.17 401.98 69.72 405.00 69.00C408.02 68.28 411.08 68.15 414.10 67.70C417.12 67.25 420.08 66.68 423.10 66.30C426.12 65.92 429.18 65.77 432.20 65.40C435.22 65.03 437.40 64.75 441.20 64.10C445.00 63.45 451.38 62.58 455.00 61.50C458.62 60.42 460.32 59.27 462.90 57.60C465.48 55.93 467.98 53.77 470.50 51.50C473.02 49.23 475.48 46.38 478.00 44.00C480.52 41.62 483.07 39.35 485.60 37.20C488.13 35.05 491.02 32.70 493.20 31.10C495.38 29.50 497.78 28.18 498.70 27.60L511.00 27.60" stroke="#ff0080" stroke-width="1.25" fill="none" stroke-linejoin="round"/></g>
<rect x="574.9" y="83.5" width="64.50" height="115.90" fill="#fff" stroke="#3a3a3a" stroke-width="1.3"/>
<path d="M580.90 93.50H604.00" stroke="#ff0000" stroke-width="1.15"/>
<text transform="translate(607.80,97.40) scale(1,1.07)" font-size="11.2">1st</text>
<path d="M580.90 107.25H604.00" stroke="#0000ff" stroke-width="1.15"/>
<text transform="translate(607.80,111.15) scale(1,1.07)" font-size="11.2">2nd</text>
<path d="M580.90 121.00H604.00" stroke="#28a0a0" stroke-width="1.15"/>
<text transform="translate(607.80,124.90) scale(1,1.07)" font-size="11.2">25th</text>
<path d="M580.90 134.75H604.00" stroke="#ff00ff" stroke-width="1.15"/>
<text transform="translate(607.80,138.65) scale(1,1.07)" font-size="11.2">50th</text>
<path d="M580.90 148.50H604.00" stroke="#808000" stroke-width="1.15"/>
<text transform="translate(607.80,152.40) scale(1,1.07)" font-size="11.2">75th</text>
<path d="M580.90 162.25H604.00" stroke="#000080" stroke-width="1.15"/>
<text transform="translate(607.80,166.15) scale(1,1.07)" font-size="11.2">100th</text>
<path d="M580.90 176.00H604.00" stroke="#800000" stroke-width="1.15"/>
<text transform="translate(607.80,179.90) scale(1,1.07)" font-size="11.2">125th</text>
<path d="M580.90 189.75H604.00" stroke="#ff0080" stroke-width="1.15"/>
<text transform="translate(607.80,193.65) scale(1,1.07)" font-size="11.2">150th</text>
<text transform="translate(527.3,78.3) scale(1,1.07)" font-size="10.8">Initial Activation</text>
<path d="M563.30 66.80L555.11 46.70" stroke="#1a1a1a" stroke-width="1.05" fill="none"/><path d="M553.60 43.00L557.06 46.99L553.91 48.27Z" fill="#1a1a1a"/>
<path d="M559.10 80.50L537.96 107.64" stroke="#1a1a1a" stroke-width="1.05" fill="none"/><path d="M535.50 110.80L537.23 105.81L539.91 107.90Z" fill="#1a1a1a"/>
<path d="M487.50 106.50L460.96 140.55" stroke="#1a1a1a" stroke-width="1.05" fill="none"/><path d="M458.50 143.70L460.23 138.71L462.91 140.80Z" fill="#1a1a1a"/>
<text transform="translate(469.2,112.3) scale(1,1.07)" font-size="10.5">1st</text>
<text transform="translate(443.4,153.8) scale(1,1.07)" font-size="10.5">150th</text>
<rect x="379.10" y="4.50" width="262.30" height="195.60" fill="none" stroke="#6c6c6c" stroke-width="1.6"/>
<path d="M379.10 200.10v3.9M395.49 200.10v2.4M411.89 200.10v3.9M428.28 200.10v2.4M444.68 200.10v3.9M461.07 200.10v2.4M477.46 200.10v3.9M493.86 200.10v2.4M510.25 200.10v3.9M526.64 200.10v2.4M543.04 200.10v3.9M559.43 200.10v2.4M575.82 200.10v3.9M592.22 200.10v2.4M608.61 200.10v3.9M625.01 200.10v2.4M641.40 200.10v3.9M379.10 200.10h-3.9M379.10 187.04h-2.4M379.10 173.97h-3.9M379.10 160.91h-2.4M379.10 147.84h-3.9M379.10 134.78h-2.4M379.10 121.71h-3.9M379.10 108.65h-2.4M379.10 95.59h-3.9M379.10 82.52h-2.4M379.10 69.46h-3.9M379.10 56.39h-2.4M379.10 43.33h-3.9M379.10 30.26h-2.4M379.10 17.20h-3.9" stroke="#2a2a2a" stroke-width="1.2" fill="none"/>
<path d="M379.9 27.6V174.3" stroke="#ff0080" stroke-width="1.7" fill="none"/>
<path d="M379.9 166.3V174.3" stroke="#c02080" stroke-width="1.7" fill="none"/>
<g font-size="11.2"><text transform="translate(379.10,215.80) scale(1,1.08)" text-anchor="middle">0</text><text transform="translate(411.89,215.80) scale(1,1.08)" text-anchor="middle">50</text><text transform="translate(444.68,215.80) scale(1,1.08)" text-anchor="middle">100</text><text transform="translate(477.46,215.80) scale(1,1.08)" text-anchor="middle">150</text><text transform="translate(510.25,215.80) scale(1,1.08)" text-anchor="middle">200</text><text transform="translate(543.04,215.80) scale(1,1.08)" text-anchor="middle">250</text><text transform="translate(575.82,215.80) scale(1,1.08)" text-anchor="middle">300</text><text transform="translate(608.61,215.80) scale(1,1.08)" text-anchor="middle">350</text><text transform="translate(641.40,215.80) scale(1,1.08)" text-anchor="middle">400</text><text transform="translate(372.70,204.20) scale(1,1.08)" text-anchor="end">1.5</text><text transform="translate(372.70,178.07) scale(1,1.08)" text-anchor="end">2.0</text><text transform="translate(372.70,151.94) scale(1,1.08)" text-anchor="end">2.5</text><text transform="translate(372.70,125.81) scale(1,1.08)" text-anchor="end">3.0</text><text transform="translate(372.70,99.69) scale(1,1.08)" text-anchor="end">3.5</text><text transform="translate(372.70,73.56) scale(1,1.08)" text-anchor="end">4.0</text><text transform="translate(372.70,47.43) scale(1,1.08)" text-anchor="end">4.5</text><text transform="translate(372.70,21.30) scale(1,1.08)" text-anchor="end">5.0</text></g>
<text transform="translate(351.4,200.4) rotate(-90) scale(1.06,1)" font-size="18.4">Potential (V vs. Li/Li<tspan font-size="11" dy="-12" dx="-0.1">+</tspan><tspan dy="12" dx="-0.4">)</tspan></text>
<text transform="translate(401.0,238.9) scale(1,1.05)" font-size="19.1">Specific capacity (mAh g<tspan font-size="12.5" dy="-8.5">-1</tspan><tspan dy="8.5">)</tspan></text>
<text font-size="21" transform="translate(384.0,25.5) scale(1.02,0.98)">(b)</text>
<g clip-path="url(#clipc)"><path d="M55.30 287.00C55.35 287.20 55.13 287.30 55.60 288.20C56.07 289.10 56.68 290.78 58.10 292.40C59.52 294.02 61.08 295.37 64.10 297.90C67.12 300.43 72.72 304.53 76.20 307.60C79.68 310.67 82.02 313.87 85.00 316.30C87.98 318.73 91.08 320.47 94.10 322.20C97.12 323.93 100.08 325.18 103.10 326.70C106.12 328.22 109.18 329.93 112.20 331.30C115.22 332.67 117.83 333.62 121.20 334.90C124.57 336.18 129.03 337.82 132.40 339.00C135.77 340.18 136.80 340.48 141.40 342.00C146.00 343.52 153.55 346.25 160.00 348.10C166.45 349.95 173.40 351.42 180.10 353.10C186.80 354.78 195.17 356.85 200.20 358.20C205.23 359.55 206.93 360.03 210.30 361.20C213.67 362.37 217.38 363.70 220.40 365.20C223.42 366.70 226.07 368.02 228.40 370.20C230.73 372.38 232.38 374.93 234.40 378.30C236.42 381.67 238.82 386.38 240.50 390.40C242.18 394.42 243.33 398.38 244.50 402.40C245.67 406.42 246.62 410.87 247.50 414.50C248.38 418.13 249.42 422.58 249.80 424.20" stroke="#000000" stroke-width="1.25" fill="none" stroke-linejoin="round"/>
<path d="M55.00 345.00C55.02 342.85 54.80 334.85 55.10 332.10C55.40 329.35 55.90 329.72 56.80 328.50C57.70 327.28 59.08 325.82 60.50 324.80C61.92 323.78 63.68 323.05 65.30 322.40C66.92 321.75 67.37 321.75 70.20 320.90C73.03 320.05 79.83 318.07 82.30 317.30C84.77 316.53 83.03 316.98 85.00 316.30C86.97 315.62 91.08 314.33 94.10 313.20C97.12 312.07 100.23 310.87 103.10 309.50C105.97 308.13 108.82 306.50 111.30 305.00C113.78 303.50 115.88 301.75 118.00 300.50C120.12 299.25 122.00 298.23 124.00 297.50C126.00 296.77 127.10 296.57 130.00 296.10C132.90 295.63 137.48 295.03 141.40 294.70C145.32 294.37 149.57 294.23 153.50 294.10C157.43 293.97 159.75 293.97 165.00 293.90C170.25 293.83 178.93 293.77 185.00 293.70C191.07 293.63 194.63 293.60 201.40 293.50C208.17 293.40 219.17 293.18 225.60 293.10C232.03 293.02 235.58 293.13 240.00 293.00C244.42 292.87 248.07 292.57 252.10 292.30C256.13 292.03 260.15 291.75 264.20 291.40C268.25 291.05 272.35 290.80 276.40 290.20C280.45 289.60 284.87 288.77 288.50 287.80C292.13 286.83 295.58 285.47 298.20 284.40C300.82 283.33 302.43 282.55 304.20 281.40C305.97 280.25 308.03 278.15 308.80 277.50" stroke="#000000" stroke-width="1.25" fill="none" stroke-linejoin="round"/>
<path d="M55.00 277.60L55.30 288.00C55.45 289.08 55.53 293.03 56.20 294.50C56.87 295.97 57.98 295.83 59.30 296.80C60.62 297.77 61.28 298.10 64.10 300.30C66.92 302.50 72.72 306.88 76.20 310.00C79.68 313.12 82.02 316.47 85.00 319.00C87.98 321.53 91.08 323.17 94.10 325.20C97.12 327.23 100.08 329.35 103.10 331.20C106.12 333.05 109.18 334.60 112.20 336.30C115.22 338.00 117.40 339.55 121.20 341.40C125.00 343.25 131.48 345.87 135.00 347.40C138.52 348.93 138.13 349.13 142.30 350.60C146.47 352.07 155.38 354.70 160.00 356.20C164.62 357.70 166.65 358.23 170.00 359.60C173.35 360.97 175.07 362.12 180.10 364.40C185.13 366.68 195.17 370.65 200.20 373.30C205.23 375.95 207.62 377.45 210.30 380.30C212.98 383.15 214.62 386.03 216.30 390.40C217.98 394.77 219.32 400.87 220.40 406.50C221.48 412.13 222.40 421.25 222.80 424.20" stroke="#ff0000" stroke-width="1.25" fill="none" stroke-linejoin="round"/>
<path d="M55.00 424.20L55.00 371.90C55.83 370.58 58.17 366.15 60.00 364.00C61.83 361.85 63.30 360.83 66.00 359.00C68.70 357.17 73.03 354.90 76.20 353.00C79.37 351.10 82.02 349.42 85.00 347.60C87.98 345.78 91.08 343.77 94.10 342.10C97.12 340.43 100.08 338.88 103.10 337.60C106.12 336.32 109.18 335.45 112.20 334.40C115.22 333.35 118.37 332.17 121.20 331.30C124.03 330.43 125.83 330.15 129.20 329.20C132.57 328.25 137.35 326.80 141.40 325.60C145.45 324.40 149.52 323.50 153.50 322.00C157.48 320.50 161.32 318.52 165.30 316.60C169.28 314.68 173.42 312.52 177.40 310.50C181.38 308.48 185.20 306.60 189.20 304.50C193.20 302.40 197.35 300.22 201.40 297.90C205.45 295.58 209.87 293.03 213.50 290.60C217.13 288.17 220.58 285.47 223.20 283.30C225.82 281.13 228.20 278.55 229.20 277.60L240.80 277.60" stroke="#ff0000" stroke-width="1.25" fill="none" stroke-linejoin="round"/>
<path d="M55.00 277.60L55.30 288.00C55.45 289.00 55.53 292.65 56.20 294.00C56.87 295.35 57.98 295.18 59.30 296.10C60.62 297.02 61.28 297.35 64.10 299.50C66.92 301.65 72.72 305.97 76.20 309.00C79.68 312.03 82.02 315.20 85.00 317.70C87.98 320.20 91.08 321.88 94.10 324.00C97.12 326.12 100.08 328.43 103.10 330.40C106.12 332.37 109.18 334.00 112.20 335.80C115.22 337.60 117.40 339.23 121.20 341.20C125.00 343.17 131.48 345.92 135.00 347.60C138.52 349.28 138.13 349.70 142.30 351.30C146.47 352.90 155.38 355.62 160.00 357.20C164.62 358.78 166.65 359.30 170.00 360.80C173.35 362.30 175.07 363.62 180.10 366.20C185.13 368.78 195.17 373.28 200.20 376.30C205.23 379.32 207.78 381.28 210.30 384.30C212.82 387.32 213.95 390.03 215.30 394.40C216.65 398.77 217.55 405.53 218.40 410.50C219.25 415.47 220.07 421.92 220.40 424.20" stroke="#0000ff" stroke-width="1.25" fill="none" stroke-linejoin="round"/>
<path d="M55.00 424.20L55.00 371.90C55.83 370.42 58.17 365.48 60.00 363.00C61.83 360.52 63.30 359.00 66.00 357.00C68.70 355.00 73.03 352.87 76.20 351.00C79.37 349.13 82.02 347.58 85.00 345.80C87.98 344.02 91.08 341.97 94.10 340.30C97.12 338.63 100.08 337.15 103.10 335.80C106.12 334.45 109.18 333.33 112.20 332.20C115.22 331.07 118.37 329.90 121.20 329.00C124.03 328.10 125.83 327.77 129.20 326.80C132.57 325.83 137.35 324.62 141.40 323.20C145.45 321.78 149.52 320.20 153.50 318.30C157.48 316.40 161.32 314.00 165.30 311.80C169.28 309.60 173.42 307.32 177.40 305.10C181.38 302.88 185.20 301.12 189.20 298.50C193.20 295.88 197.97 292.13 201.40 289.40C204.83 286.67 207.78 284.07 209.80 282.10C211.82 280.13 212.88 278.35 213.50 277.60L225.00 277.60" stroke="#0000ff" stroke-width="1.25" fill="none" stroke-linejoin="round"/>
<path d="M55.00 277.60L55.30 288.00C55.55 289.65 55.33 294.63 56.80 297.90C58.27 301.17 61.90 305.08 64.10 307.60C66.30 310.12 67.98 311.18 70.00 313.00C72.02 314.82 73.70 316.22 76.20 318.50C78.70 320.78 82.02 324.12 85.00 326.70C87.98 329.28 91.55 331.78 94.10 334.00C96.65 336.22 98.15 337.83 100.30 340.00C102.45 342.17 103.53 344.65 107.00 347.00C110.47 349.35 115.22 351.52 121.10 354.10C126.98 356.68 135.82 359.98 142.30 362.50C148.78 365.02 153.70 367.07 160.00 369.20C166.30 371.33 174.40 373.12 180.10 375.30C185.80 377.48 190.85 379.78 194.20 382.30C197.55 384.82 198.52 386.37 200.20 390.40C201.88 394.43 203.12 400.87 204.30 406.50C205.48 412.13 206.80 421.25 207.30 424.20" stroke="#28a0a0" stroke-width="1.25" fill="none" stroke-linejoin="round"/>
<path d="M55.00 424.20L55.00 371.90C55.50 371.00 56.48 368.23 58.00 366.50C59.52 364.77 61.07 363.33 64.10 361.50C67.13 359.67 72.13 357.42 76.20 355.50C80.27 353.58 84.53 352.17 88.50 350.00C92.47 347.83 97.25 344.33 100.00 342.50C102.75 340.67 102.97 340.08 105.00 339.00C107.03 337.92 110.18 336.92 112.20 336.00C114.22 335.08 114.27 334.75 117.10 333.50C119.93 332.25 125.15 330.17 129.20 328.50C133.25 326.83 137.35 325.40 141.40 323.50C145.45 321.60 149.47 319.27 153.50 317.10C157.53 314.93 161.62 313.02 165.60 310.50C169.58 307.98 174.17 304.23 177.40 302.00C180.63 299.77 183.03 298.80 185.00 297.10C186.97 295.40 187.08 294.30 189.20 291.80C191.32 289.30 195.98 284.47 197.70 282.10C199.42 279.73 199.20 278.35 199.50 277.60L209.80 277.60" stroke="#28a0a0" stroke-width="1.25" fill="none" stroke-linejoin="round"/>
<path d="M55.00 277.60L55.30 288.00C55.55 289.65 55.33 294.40 56.80 297.90C58.27 301.40 61.90 305.98 64.10 309.00C66.30 312.02 67.98 314.00 70.00 316.00C72.02 318.00 73.97 318.32 76.20 321.00C78.43 323.68 81.03 328.10 83.40 332.10C85.77 336.10 87.98 341.58 90.40 345.00C92.82 348.42 95.45 350.50 97.90 352.60C100.35 354.70 102.40 356.18 105.10 357.60C107.80 359.02 109.08 359.33 114.10 361.10C119.12 362.87 127.55 365.97 135.20 368.20C142.85 370.43 154.20 373.08 160.00 374.50C165.80 375.92 166.65 375.78 170.00 376.70C173.35 377.62 176.07 378.57 180.10 380.00C184.13 381.43 191.02 382.90 194.20 385.30C197.38 387.70 197.68 390.20 199.20 394.40C200.72 398.60 202.18 405.53 203.30 410.50C204.42 415.47 205.47 421.92 205.90 424.20" stroke="#ff00ff" stroke-width="1.25" fill="none" stroke-linejoin="round"/>
<path d="M55.00 424.20L55.00 371.90C55.50 370.92 56.48 367.82 58.00 366.00C59.52 364.18 61.07 362.83 64.10 361.00C67.13 359.17 72.13 356.97 76.20 355.00C80.27 353.03 85.52 350.78 88.50 349.20C91.48 347.62 91.67 347.12 94.10 345.50C96.53 343.88 100.08 341.20 103.10 339.50C106.12 337.80 109.18 336.80 112.20 335.30C115.22 333.80 118.37 331.97 121.20 330.50C124.03 329.03 125.83 327.92 129.20 326.50C132.57 325.08 137.35 323.67 141.40 322.00C145.45 320.33 149.47 318.73 153.50 316.50C157.53 314.27 161.62 311.35 165.60 308.60C169.58 305.85 174.17 302.42 177.40 300.00C180.63 297.58 183.03 295.67 185.00 294.10C186.97 292.53 187.28 292.60 189.20 290.60C191.12 288.60 194.98 284.27 196.50 282.10C198.02 279.93 198.00 278.35 198.30 277.60L207.40 277.60" stroke="#ff00ff" stroke-width="1.25" fill="none" stroke-linejoin="round"/>
<path d="M55.00 277.60L55.30 288.00C55.67 290.00 56.22 296.00 57.50 300.00C58.78 304.00 60.92 308.50 63.00 312.00C65.08 315.50 67.83 318.33 70.00 321.00C72.17 323.67 74.37 325.75 76.00 328.00C77.63 330.25 78.55 331.25 79.80 334.50C81.05 337.75 82.12 343.62 83.50 347.50C84.88 351.38 86.32 355.02 88.10 357.80C89.88 360.58 92.22 362.70 94.20 364.20C96.18 365.70 98.00 365.95 100.00 366.80C102.00 367.65 103.85 368.60 106.20 369.30C108.55 370.00 109.27 369.90 114.10 371.00C118.93 372.10 127.55 374.23 135.20 375.90C142.85 377.57 154.20 379.85 160.00 381.00C165.80 382.15 166.65 382.08 170.00 382.80C173.35 383.52 176.40 384.03 180.10 385.30C183.80 386.57 189.35 388.22 192.20 390.40C195.05 392.58 195.87 395.05 197.20 398.40C198.53 401.75 199.35 406.20 200.20 410.50C201.05 414.80 201.95 421.92 202.30 424.20" stroke="#808000" stroke-width="1.25" fill="none" stroke-linejoin="round"/>
<path d="M55.00 424.20L55.00 371.90C56.52 369.92 60.57 363.15 64.10 360.00C67.63 356.85 72.72 355.22 76.20 353.00C79.68 350.78 82.02 349.12 85.00 346.70C87.98 344.28 91.08 340.92 94.10 338.50C97.12 336.08 100.08 333.85 103.10 332.20C106.12 330.55 109.18 329.67 112.20 328.60C115.22 327.53 118.37 326.50 121.20 325.80C124.03 325.10 125.83 325.33 129.20 324.40C132.57 323.47 137.35 322.12 141.40 320.20C145.45 318.28 149.47 315.57 153.50 312.90C157.53 310.23 161.62 307.27 165.60 304.20C169.58 301.13 173.47 297.78 177.40 294.50C181.33 291.22 186.32 287.17 189.20 284.50C192.08 281.83 193.58 279.65 194.70 278.50C195.82 277.35 195.70 277.75 195.90 277.60L201.00 277.60" stroke="#808000" stroke-width="1.25" fill="none" stroke-linejoin="round"/>
<path d="M55.00 277.60L55.30 288.00C55.67 290.33 56.22 297.33 57.50 302.00C58.78 306.67 61.08 312.00 63.00 316.00C64.92 320.00 67.17 323.50 69.00 326.00C70.83 328.50 72.50 329.17 74.00 331.00C75.50 332.83 76.92 334.50 78.00 337.00C79.08 339.50 79.62 342.75 80.50 346.00C81.38 349.25 82.03 353.33 83.30 356.50C84.57 359.67 86.28 362.67 88.10 365.00C89.92 367.33 92.22 369.03 94.20 370.50C96.18 371.97 98.00 373.00 100.00 373.80C102.00 374.60 102.87 374.60 106.20 375.30C109.53 376.00 115.17 377.08 120.00 378.00C124.83 378.92 128.53 379.77 135.20 380.80C141.87 381.83 154.20 383.33 160.00 384.20C165.80 385.07 166.65 385.13 170.00 386.00C173.35 386.87 177.07 388.00 180.10 389.40C183.13 390.80 186.02 391.90 188.20 394.40C190.38 396.90 191.70 399.43 193.20 404.40C194.70 409.37 196.53 420.90 197.20 424.20" stroke="#000080" stroke-width="1.25" fill="none" stroke-linejoin="round"/>
<path d="M55.00 424.20L55.00 371.90C56.52 369.68 60.57 362.17 64.10 358.60C67.63 355.03 72.72 352.93 76.20 350.50C79.68 348.07 82.02 346.50 85.00 344.00C87.98 341.50 91.08 337.83 94.10 335.50C97.12 333.17 100.08 331.50 103.10 330.00C106.12 328.50 109.18 327.57 112.20 326.50C115.22 325.43 118.37 324.35 121.20 323.60C124.03 322.85 125.83 322.98 129.20 322.00C132.57 321.02 137.35 319.83 141.40 317.70C145.45 315.57 149.47 312.37 153.50 309.20C157.53 306.03 161.67 302.00 165.60 298.70C169.53 295.40 173.57 292.37 177.10 289.40C180.63 286.43 184.57 282.87 186.80 280.90C189.03 278.93 189.88 278.15 190.50 277.60L196.00 277.60" stroke="#000080" stroke-width="1.25" fill="none" stroke-linejoin="round"/>
<path d="M55.00 277.60L55.30 288.00C55.50 290.00 55.72 296.00 56.50 300.00C57.28 304.00 58.42 308.33 60.00 312.00C61.58 315.67 64.00 318.83 66.00 322.00C68.00 325.17 70.33 328.50 72.00 331.00C73.67 333.50 74.90 334.80 76.00 337.00C77.10 339.20 77.78 341.53 78.60 344.20C79.42 346.87 80.12 349.78 80.90 353.00C81.68 356.22 82.30 360.58 83.30 363.50C84.30 366.42 85.47 368.58 86.90 370.50C88.33 372.42 90.07 373.67 91.90 375.00C93.73 376.33 95.52 377.38 97.90 378.50C100.28 379.62 102.52 380.87 106.20 381.70C109.88 382.53 115.17 382.93 120.00 383.50C124.83 384.07 128.53 384.38 135.20 385.10C141.87 385.82 154.20 387.07 160.00 387.80C165.80 388.53 167.32 388.73 170.00 389.50C172.68 390.27 173.75 390.92 176.10 392.40C178.45 393.88 182.08 395.72 184.10 398.40C186.12 401.08 187.02 404.20 188.20 408.50C189.38 412.80 190.70 421.58 191.20 424.20" stroke="#800000" stroke-width="1.25" fill="none" stroke-linejoin="round"/>
<path d="M55.00 424.20L55.00 371.90C55.70 370.50 57.28 366.12 59.20 363.50C61.12 360.88 63.67 358.78 66.50 356.20C69.33 353.62 73.12 350.87 76.20 348.00C79.28 345.13 82.02 341.83 85.00 339.00C87.98 336.17 91.08 333.08 94.10 331.00C97.12 328.92 100.08 327.67 103.10 326.50C106.12 325.33 109.18 324.78 112.20 324.00C115.22 323.22 118.37 322.55 121.20 321.80C124.03 321.05 125.83 320.78 129.20 319.50C132.57 318.22 137.35 316.62 141.40 314.10C145.45 311.58 149.47 307.83 153.50 304.40C157.53 300.97 162.52 296.23 165.60 293.50C168.68 290.77 170.08 289.58 172.00 288.00C173.92 286.42 175.43 285.38 177.10 284.00C178.77 282.62 180.78 280.77 182.00 279.70C183.22 278.63 184.00 277.95 184.40 277.60L190.00 277.60" stroke="#800000" stroke-width="1.25" fill="none" stroke-linejoin="round"/>
<path d="M55.00 277.60L55.30 288.00C55.35 289.25 55.13 293.25 55.60 295.50C56.07 297.75 56.68 299.08 58.10 301.50C59.52 303.92 62.08 306.77 64.10 310.00C66.12 313.23 68.60 317.62 70.20 320.90C71.80 324.18 72.48 326.35 73.70 329.70C74.92 333.05 76.50 337.20 77.50 341.00C78.50 344.80 79.12 348.58 79.70 352.50C80.28 356.42 80.40 361.15 81.00 364.50C81.60 367.85 82.32 370.03 83.30 372.60C84.28 375.17 85.08 378.08 86.90 379.90C88.72 381.72 92.02 382.65 94.20 383.50C96.38 384.35 98.00 384.60 100.00 385.00C102.00 385.40 102.87 385.45 106.20 385.90C109.53 386.35 115.17 387.13 120.00 387.70C124.83 388.27 130.32 388.68 135.20 389.30C140.08 389.92 145.17 390.65 149.30 391.40C153.43 392.15 157.22 393.03 160.00 393.80C162.78 394.57 163.98 395.17 166.00 396.00C168.02 396.83 170.08 396.72 172.10 398.80C174.12 400.88 176.27 404.27 178.10 408.50C179.93 412.73 182.27 421.58 183.10 424.20" stroke="#ff0080" stroke-width="1.25" fill="none" stroke-linejoin="round"/>
<path d="M55.00 424.20L55.00 371.90C55.50 370.70 56.48 367.43 58.00 364.70C59.52 361.97 62.08 358.03 64.10 355.50C66.12 352.97 68.08 351.42 70.10 349.50C72.12 347.58 73.72 346.33 76.20 344.00C78.68 341.67 82.02 338.08 85.00 335.50C87.98 332.92 91.08 330.33 94.10 328.50C97.12 326.67 100.08 325.58 103.10 324.50C106.12 323.42 109.18 322.83 112.20 322.00C115.22 321.17 118.37 320.42 121.20 319.50C124.03 318.58 126.25 317.80 129.20 316.50C132.15 315.20 135.87 313.52 138.90 311.70C141.93 309.88 144.97 307.52 147.40 305.60C149.83 303.68 151.48 302.22 153.50 300.20C155.52 298.18 157.48 295.43 159.50 293.50C161.52 291.57 163.67 290.10 165.60 288.60C167.53 287.10 169.38 285.88 171.10 284.50C172.82 283.12 174.70 281.45 175.90 280.30C177.10 279.15 177.90 278.05 178.30 277.60L183.20 277.60" stroke="#ff0080" stroke-width="1.25" fill="none" stroke-linejoin="round"/></g>
<rect x="250.5" y="333.6" width="64.80" height="116.20" fill="#fff" stroke="#3a3a3a" stroke-width="1.3"/>
<path d="M256.60 343.40H280.20" stroke="#ff0000" stroke-width="1.15"/>
<text transform="translate(284.00,347.30) scale(1,1.07)" font-size="11.2">1st</text>
<path d="M256.60 357.20H280.20" stroke="#0000ff" stroke-width="1.15"/>
<text transform="translate(284.00,361.10) scale(1,1.07)" font-size="11.2">2nd</text>
<path d="M256.60 371.00H280.20" stroke="#28a0a0" stroke-width="1.15"/>
<text transform="translate(284.00,374.90) scale(1,1.07)" font-size="11.2">25th</text>
<path d="M256.60 384.80H280.20" stroke="#ff00ff" stroke-width="1.15"/>
<text transform="translate(284.00,388.70) scale(1,1.07)" font-size="11.2">50th</text>
<path d="M256.60 398.60H280.20" stroke="#808000" stroke-width="1.15"/>
<text transform="translate(284.00,402.50) scale(1,1.07)" font-size="11.2">75th</text>
<path d="M256.60 412.40H280.20" stroke="#000080" stroke-width="1.15"/>
<text transform="translate(284.00,416.30) scale(1,1.07)" font-size="11.2">100th</text>
<path d="M256.60 426.20H280.20" stroke="#800000" stroke-width="1.15"/>
<text transform="translate(284.00,430.10) scale(1,1.07)" font-size="11.2">125th</text>
<path d="M256.60 440.00H280.20" stroke="#ff0080" stroke-width="1.15"/>
<text transform="translate(284.00,443.90) scale(1,1.07)" font-size="11.2">150th</text>
<text transform="translate(203.4,328.3) scale(1,1.07)" font-size="10.8">Initial Activation</text>
<path d="M238.80 317.00L230.87 296.92" stroke="#1a1a1a" stroke-width="1.05" fill="none"/><path d="M229.40 293.20L232.82 297.23L229.66 298.47Z" fill="#1a1a1a"/>
<path d="M235.70 329.20L212.22 358.19" stroke="#1a1a1a" stroke-width="1.05" fill="none"/><path d="M209.70 361.30L211.53 356.34L214.17 358.48Z" fill="#1a1a1a"/>
<path d="M164.80 359.00L142.55 387.74" stroke="#1a1a1a" stroke-width="1.05" fill="none"/><path d="M140.10 390.90L141.82 385.91L144.51 387.99Z" fill="#1a1a1a"/>
<text transform="translate(144.8,363.7) scale(1,1.07)" font-size="10.5">1st</text>
<text transform="translate(123.9,402.7) scale(1,1.07)" font-size="10.5">150th</text>
<rect x="54.80" y="254.40" width="262.90" height="196.00" fill="none" stroke="#484848" stroke-width="1.6"/>
<path d="M54.80 450.40v3.9M71.23 450.40v2.4M87.66 450.40v3.9M104.09 450.40v2.4M120.52 450.40v3.9M136.96 450.40v2.4M153.39 450.40v3.9M169.82 450.40v2.4M186.25 450.40v3.9M202.68 450.40v2.4M219.11 450.40v3.9M235.54 450.40v2.4M251.97 450.40v3.9M268.41 450.40v2.4M284.84 450.40v3.9M301.27 450.40v2.4M317.70 450.40v3.9M54.80 450.40h-3.9M54.80 437.31h-2.4M54.80 424.21h-3.9M54.80 411.12h-2.4M54.80 398.03h-3.9M54.80 384.94h-2.4M54.80 371.84h-3.9M54.80 358.75h-2.4M54.80 345.66h-3.9M54.80 332.56h-2.4M54.80 319.47h-3.9M54.80 306.38h-2.4M54.80 293.29h-3.9M54.80 280.19h-2.4M54.80 267.10h-3.9" stroke="#2a2a2a" stroke-width="1.2" fill="none"/>
<path d="M55.4 277.6V297M55.4 371V424.7" stroke="#ff0080" stroke-width="1.7" fill="none"/>
<path d="M55.4 333V372" stroke="#000" stroke-width="1.4" fill="none"/>
<path d="M55.4 416.7V424.7" stroke="#c02080" stroke-width="1.7" fill="none"/>
<g font-size="11.2"><text transform="translate(54.80,466.10) scale(1,1.08)" text-anchor="middle">0</text><text transform="translate(87.66,466.10) scale(1,1.08)" text-anchor="middle">50</text><text transform="translate(120.52,466.10) scale(1,1.08)" text-anchor="middle">100</text><text transform="translate(153.39,466.10) scale(1,1.08)" text-anchor="middle">150</text><text transform="translate(186.25,466.10) scale(1,1.08)" text-anchor="middle">200</text><text transform="translate(219.11,466.10) scale(1,1.08)" text-anchor="middle">250</text><text transform="translate(251.97,466.10) scale(1,1.08)" text-anchor="middle">300</text><text transform="translate(284.84,466.10) scale(1,1.08)" text-anchor="middle">350</text><text transform="translate(317.70,466.10) scale(1,1.08)" text-anchor="middle">400</text><text transform="translate(48.40,454.50) scale(1,1.08)" text-anchor="end">1.5</text><text transform="translate(48.40,428.31) scale(1,1.08)" text-anchor="end">2.0</text><text transform="translate(48.40,402.13) scale(1,1.08)" text-anchor="end">2.5</text><text transform="translate(48.40,375.94) scale(1,1.08)" text-anchor="end">3.0</text><text transform="translate(48.40,349.76) scale(1,1.08)" text-anchor="end">3.5</text><text transform="translate(48.40,323.57) scale(1,1.08)" text-anchor="end">4.0</text><text transform="translate(48.40,297.39) scale(1,1.08)" text-anchor="end">4.5</text><text transform="translate(48.40,271.20) scale(1,1.08)" text-anchor="end">5.0</text></g>
<text transform="translate(25.9,453.6) rotate(-90) scale(1.06,1)" font-size="18.4">Potential (V vs. Li/Li<tspan font-size="11" dy="-12" dx="-0.1">+</tspan><tspan dy="12" dx="-0.4">)</tspan></text>
<text transform="translate(77.0,485.5) scale(1,1.05)" font-size="19.1">Specific capacity (mAh g<tspan font-size="12.5" dy="-8.5">-1</tspan><tspan dy="8.5">)</tspan></text>
<text font-size="21" transform="translate(59.5,274.4) scale(1.02,0.98)">(c)</text>
<g clip-path="url(#clipd)"><path d="M379.60 290.00C379.83 291.00 380.10 294.15 381.00 296.00C381.90 297.85 383.48 299.42 385.00 301.10C386.52 302.78 387.58 303.93 390.10 306.10C392.62 308.27 396.75 311.75 400.10 314.10C403.45 316.45 406.85 318.35 410.20 320.20C413.55 322.05 416.90 323.65 420.20 325.20C423.50 326.75 425.68 327.90 430.00 329.50C434.32 331.10 440.70 332.97 446.10 334.80C451.50 336.63 456.92 338.72 462.40 340.50C467.88 342.28 472.55 343.83 479.00 345.50C485.45 347.17 493.88 348.80 501.10 350.50C508.32 352.20 516.30 354.13 522.30 355.70C528.30 357.27 532.87 358.50 537.10 359.90C541.33 361.30 544.53 362.33 547.70 364.10C550.87 365.87 553.63 367.85 556.10 370.50C558.57 373.15 560.73 376.30 562.50 380.00C564.27 383.70 565.47 388.48 566.70 392.70C567.93 396.92 568.93 400.02 569.90 405.30C570.87 410.58 572.07 421.22 572.50 424.40" stroke="#000000" stroke-width="1.25" fill="none" stroke-linejoin="round"/>
<path d="M379.60 372.00C379.80 369.08 380.40 359.33 380.80 354.50C381.20 349.67 381.55 346.25 382.00 343.00C382.45 339.75 383.00 337.08 383.50 335.00C384.00 332.92 384.25 332.00 385.00 330.50C385.75 329.00 386.82 327.25 388.00 326.00C389.18 324.75 390.08 323.92 392.10 323.00C394.12 322.08 397.08 321.28 400.10 320.50C403.12 319.72 406.85 319.13 410.20 318.30C413.55 317.47 416.90 316.35 420.20 315.50C423.50 314.65 426.35 314.37 430.00 313.20C433.65 312.03 439.07 309.90 442.10 308.50C445.13 307.10 446.18 306.22 448.20 304.80C450.22 303.38 452.18 301.30 454.20 300.00C456.22 298.70 458.27 297.75 460.30 297.00C462.33 296.25 463.37 295.95 466.40 295.50C469.43 295.05 474.47 294.55 478.50 294.30C482.53 294.05 484.65 294.17 490.60 294.00C496.55 293.83 506.22 293.57 514.20 293.30C522.18 293.03 530.87 292.57 538.50 292.40C546.13 292.23 554.40 292.42 560.00 292.30C565.60 292.18 568.07 292.00 572.10 291.70C576.13 291.40 580.15 291.02 584.20 290.50C588.25 289.98 592.75 289.42 596.40 288.60C600.05 287.78 603.28 286.80 606.10 285.60C608.92 284.40 611.25 282.75 613.30 281.40C615.35 280.05 617.55 278.15 618.40 277.50" stroke="#000000" stroke-width="1.25" fill="none" stroke-linejoin="round"/>
<path d="M379.50 278.00L379.60 292.00C380.00 293.75 381.10 299.73 382.00 302.50C382.90 305.27 384.00 307.05 385.00 308.60C386.00 310.15 386.32 310.57 388.00 311.80C389.68 313.03 392.23 314.47 395.10 316.00C397.97 317.53 401.85 319.17 405.20 321.00C408.55 322.83 411.85 325.13 415.20 327.00C418.55 328.87 422.83 330.95 425.30 332.20C427.77 333.45 428.42 333.45 430.00 334.50C431.58 335.55 433.45 337.33 434.80 338.50C436.15 339.67 436.22 340.00 438.10 341.50C439.98 343.00 442.08 345.52 446.10 347.50C450.12 349.48 456.72 351.62 462.20 353.40C467.68 355.18 473.63 356.60 479.00 358.20C484.37 359.80 490.72 361.87 494.40 363.00C498.08 364.13 498.50 363.92 501.10 365.00C503.70 366.08 507.17 367.72 510.00 369.50C512.83 371.28 515.35 373.25 518.10 375.70C520.85 378.15 524.03 380.67 526.50 384.20C528.97 387.73 531.13 392.67 532.90 396.90C534.67 401.13 535.78 405.02 537.10 409.60C538.42 414.18 540.18 421.93 540.80 424.40" stroke="#ff0000" stroke-width="1.25" fill="none" stroke-linejoin="round"/>
<path d="M379.50 424.40L379.60 370.00C380.00 369.67 380.27 369.05 382.00 368.00C383.73 366.95 386.82 365.90 390.00 363.70C393.18 361.50 397.42 357.75 401.10 354.80C404.78 351.85 408.42 348.77 412.10 346.00C415.78 343.23 420.22 340.28 423.20 338.20C426.18 336.12 426.85 335.23 430.00 333.50C433.15 331.77 438.07 329.65 442.10 327.80C446.13 325.95 450.15 324.10 454.20 322.40C458.25 320.70 462.35 319.22 466.40 317.60C470.45 315.98 474.52 314.23 478.50 312.70C482.48 311.17 486.32 309.78 490.30 308.40C494.28 307.02 498.42 305.75 502.40 304.40C506.38 303.05 510.20 302.20 514.20 300.30C518.20 298.40 522.75 295.42 526.40 293.00C530.05 290.58 533.28 287.92 536.10 285.80C538.92 283.68 541.28 281.60 543.30 280.30C545.32 279.00 547.38 278.38 548.20 278.00L567.00 278.00" stroke="#ff0000" stroke-width="1.25" fill="none" stroke-linejoin="round"/>
<path d="M379.50 278.00L379.60 292.00C380.00 293.67 381.10 299.32 382.00 302.00C382.90 304.68 384.00 306.58 385.00 308.10C386.00 309.62 386.32 309.92 388.00 311.10C389.68 312.28 392.23 313.68 395.10 315.20C397.97 316.72 401.85 318.37 405.20 320.20C408.55 322.03 411.85 324.37 415.20 326.20C418.55 328.03 422.83 329.98 425.30 331.20C427.77 332.42 428.42 332.45 430.00 333.50C431.58 334.55 433.45 336.33 434.80 337.50C436.15 338.67 436.22 339.00 438.10 340.50C439.98 342.00 442.08 344.52 446.10 346.50C450.12 348.48 456.72 350.65 462.20 352.40C467.68 354.15 473.63 355.48 479.00 357.00C484.37 358.52 490.72 360.45 494.40 361.50C498.08 362.55 498.50 362.30 501.10 363.30C503.70 364.30 506.47 365.60 510.00 367.50C513.53 369.40 518.85 372.27 522.30 374.70C525.75 377.13 528.42 379.10 530.70 382.10C532.98 385.10 534.40 388.47 536.00 392.70C537.60 396.93 539.07 402.22 540.30 407.50C541.53 412.78 542.88 421.58 543.40 424.40" stroke="#0000ff" stroke-width="1.25" fill="none" stroke-linejoin="round"/>
<path d="M379.50 424.40L379.60 370.00C380.00 369.50 380.27 369.07 382.00 367.00C383.73 364.93 386.82 360.92 390.00 357.60C393.18 354.28 397.42 350.52 401.10 347.10C404.78 343.68 408.42 339.87 412.10 337.10C415.78 334.33 420.22 332.02 423.20 330.50C426.18 328.98 427.20 329.00 430.00 328.00C432.80 327.00 435.97 326.08 440.00 324.50C444.03 322.92 449.80 320.42 454.20 318.50C458.60 316.58 462.35 315.17 466.40 313.00C470.45 310.83 474.57 307.72 478.50 305.50C482.43 303.28 486.07 301.88 490.00 299.70C493.93 297.52 498.07 294.82 502.10 292.40C506.13 289.98 510.77 287.42 514.20 285.20C517.63 282.98 521.07 280.30 522.70 279.10C524.33 277.90 523.78 278.18 524.00 278.00L543.30 278.00" stroke="#0000ff" stroke-width="1.25" fill="none" stroke-linejoin="round"/>
<path d="M379.50 278.00L379.60 292.00C380.00 293.85 380.93 300.08 382.00 303.10C383.07 306.12 384.65 308.08 386.00 310.10C387.35 312.12 388.58 313.52 390.10 315.20C391.62 316.88 393.43 318.53 395.10 320.20C396.77 321.87 398.25 323.53 400.10 325.20C401.95 326.87 404.02 328.65 406.20 330.20C408.38 331.75 410.90 333.12 413.20 334.50C415.50 335.88 417.20 337.00 420.00 338.50C422.80 340.00 425.65 341.45 430.00 343.50C434.35 345.55 440.73 348.65 446.10 350.80C451.47 352.95 456.72 354.45 462.20 356.40C467.68 358.35 472.52 360.23 479.00 362.50C485.48 364.77 493.88 366.92 501.10 370.00C508.32 373.08 517.37 377.93 522.30 381.00C527.23 384.07 528.23 385.05 530.70 388.40C533.17 391.75 535.33 396.52 537.10 401.10C538.87 405.68 540.38 412.02 541.30 415.90C542.22 419.78 542.38 422.98 542.60 424.40" stroke="#28a0a0" stroke-width="1.25" fill="none" stroke-linejoin="round"/>
<path d="M379.50 424.40L379.60 370.00C380.00 369.67 380.27 369.05 382.00 368.00C383.73 366.95 386.82 365.90 390.00 363.70C393.18 361.50 397.42 357.75 401.10 354.80C404.78 351.85 408.42 348.72 412.10 346.00C415.78 343.28 420.22 340.67 423.20 338.50C426.18 336.33 427.20 334.58 430.00 333.00C432.80 331.42 435.97 330.92 440.00 329.00C444.03 327.08 449.80 323.67 454.20 321.50C458.60 319.33 462.35 318.00 466.40 316.00C470.45 314.00 474.57 311.62 478.50 309.50C482.43 307.38 486.08 305.38 490.00 303.30C493.92 301.22 498.00 299.22 502.00 297.00C506.00 294.78 510.33 292.50 514.00 290.00C517.67 287.50 521.53 283.92 524.00 282.00C526.47 280.08 527.88 279.17 528.80 278.50C529.72 277.83 529.38 278.08 529.50 278.00L539.00 278.00" stroke="#28a0a0" stroke-width="1.25" fill="none" stroke-linejoin="round"/>
<path d="M379.50 278.00L379.60 292.00C380.00 293.83 381.10 300.17 382.00 303.00C382.90 305.83 384.00 306.97 385.00 309.00C386.00 311.03 386.82 313.17 388.00 315.20C389.18 317.23 390.58 319.03 392.10 321.20C393.62 323.37 395.43 326.15 397.10 328.20C398.77 330.25 400.25 331.95 402.10 333.50C403.95 335.05 406.22 336.00 408.20 337.50C410.18 339.00 411.72 340.72 414.00 342.50C416.28 344.28 419.23 346.53 421.90 348.20C424.57 349.87 425.97 351.00 430.00 352.50C434.03 354.00 440.73 355.70 446.10 357.20C451.47 358.70 456.72 359.78 462.20 361.50C467.68 363.22 472.52 365.38 479.00 367.50C485.48 369.62 493.88 371.60 501.10 374.20C508.32 376.80 517.72 380.38 522.30 383.10C526.88 385.82 526.67 387.15 528.60 390.50C530.53 393.85 532.32 398.62 533.90 403.20C535.48 407.78 537.15 414.47 538.10 418.00C539.05 421.53 539.35 423.33 539.60 424.40" stroke="#ff00ff" stroke-width="1.25" fill="none" stroke-linejoin="round"/>
<path d="M379.50 424.40L379.60 370.00C380.00 369.75 380.27 369.50 382.00 368.50C383.73 367.50 386.82 366.17 390.00 364.00C393.18 361.83 397.42 358.33 401.10 355.50C404.78 352.67 408.42 349.55 412.10 347.00C415.78 344.45 420.22 342.20 423.20 340.20C426.18 338.20 427.20 336.80 430.00 335.00C432.80 333.20 435.97 331.65 440.00 329.40C444.03 327.15 449.80 323.77 454.20 321.50C458.60 319.23 462.35 317.87 466.40 315.80C470.45 313.73 474.52 311.27 478.50 309.10C482.48 306.93 486.32 304.90 490.30 302.80C494.28 300.70 498.42 298.73 502.40 296.50C506.38 294.27 510.20 291.80 514.20 289.40C518.20 287.00 523.77 284.00 526.40 282.10C529.03 280.20 529.40 278.68 530.00 278.00L541.00 278.00" stroke="#ff00ff" stroke-width="1.25" fill="none" stroke-linejoin="round"/>
<path d="M379.50 278.00L379.60 292.00C380.00 293.83 380.93 299.83 382.00 303.00C383.07 306.17 384.58 308.33 386.00 311.00C387.42 313.67 389.00 316.42 390.50 319.00C392.00 321.58 393.42 324.25 395.00 326.50C396.58 328.75 398.67 330.67 400.00 332.50C401.33 334.33 401.97 336.00 403.00 337.50C404.03 339.00 404.67 339.83 406.20 341.50C407.73 343.17 409.58 345.38 412.20 347.50C414.82 349.62 418.93 352.37 421.90 354.20C424.87 356.03 425.97 357.07 430.00 358.50C434.03 359.93 440.73 361.38 446.10 362.80C451.47 364.22 456.72 365.18 462.20 367.00C467.68 368.82 472.52 371.70 479.00 373.70C485.48 375.70 494.23 376.72 501.10 379.00C507.97 381.28 515.97 384.77 520.20 387.40C524.43 390.03 524.57 391.45 526.50 394.80C528.43 398.15 530.03 402.57 531.80 407.50C533.57 412.43 536.22 421.58 537.10 424.40" stroke="#808000" stroke-width="1.25" fill="none" stroke-linejoin="round"/>
<path d="M379.50 424.40L379.60 370.00C380.00 369.67 380.27 369.08 382.00 368.00C383.73 366.92 386.82 365.75 390.00 363.50C393.18 361.25 397.42 357.50 401.10 354.50C404.78 351.50 408.42 348.33 412.10 345.50C415.78 342.67 420.22 339.67 423.20 337.50C426.18 335.33 427.20 334.03 430.00 332.50C432.80 330.97 435.97 330.45 440.00 328.30C444.03 326.15 449.80 322.00 454.20 319.60C458.60 317.20 462.35 316.05 466.40 313.90C470.45 311.75 474.52 308.98 478.50 306.70C482.48 304.42 486.32 302.35 490.30 300.20C494.28 298.05 498.42 296.00 502.40 293.80C506.38 291.60 510.40 289.45 514.20 287.00C518.00 284.55 523.15 280.60 525.20 279.10C527.25 277.60 526.28 278.18 526.50 278.00L539.70 278.00" stroke="#808000" stroke-width="1.25" fill="none" stroke-linejoin="round"/>
<path d="M379.50 278.00L379.60 292.00C379.83 292.33 380.27 292.58 381.00 294.00C381.73 295.42 382.83 297.75 384.00 300.50C385.17 303.25 386.65 307.17 388.00 310.50C389.35 313.83 390.68 317.22 392.10 320.50C393.52 323.78 395.27 327.62 396.50 330.20C397.73 332.78 398.37 333.73 399.50 336.00C400.63 338.27 401.57 340.85 403.30 343.80C405.03 346.75 407.32 350.93 409.90 353.70C412.48 356.47 415.67 358.73 418.80 360.40C421.93 362.07 425.83 362.72 428.70 363.70C431.57 364.68 433.10 365.50 436.00 366.30C438.90 367.10 441.73 367.47 446.10 368.50C450.47 369.53 456.72 371.00 462.20 372.50C467.68 374.00 472.52 375.67 479.00 377.50C485.48 379.33 494.95 381.50 501.10 383.50C507.25 385.50 512.37 387.27 515.90 389.50C519.43 391.73 520.35 393.55 522.30 396.90C524.25 400.25 525.92 405.02 527.60 409.60C529.28 414.18 531.60 421.93 532.40 424.40" stroke="#000080" stroke-width="1.25" fill="none" stroke-linejoin="round"/>
<path d="M379.50 424.40L379.60 370.00C380.00 369.67 380.27 369.08 382.00 368.00C383.73 366.92 386.82 365.87 390.00 363.50C393.18 361.13 397.42 357.08 401.10 353.80C404.78 350.52 408.42 347.13 412.10 343.80C415.78 340.47 420.22 336.18 423.20 333.80C426.18 331.42 427.20 330.78 430.00 329.50C432.80 328.22 435.97 328.08 440.00 326.10C444.03 324.12 449.80 319.93 454.20 317.60C458.60 315.27 462.35 314.33 466.40 312.10C470.45 309.87 474.52 306.58 478.50 304.20C482.48 301.82 486.32 300.00 490.30 297.80C494.28 295.60 498.42 293.42 502.40 291.00C506.38 288.58 511.22 285.38 514.20 283.30C517.18 281.22 519.08 279.38 520.30 278.50C521.52 277.62 521.30 278.08 521.50 278.00L533.00 278.00" stroke="#000080" stroke-width="1.25" fill="none" stroke-linejoin="round"/>
<path d="M379.50 278.00L379.60 292.00C379.83 292.33 380.27 292.58 381.00 294.00C381.73 295.42 382.83 297.75 384.00 300.50C385.17 303.25 386.65 307.17 388.00 310.50C389.35 313.83 390.88 317.63 392.10 320.50C393.32 323.37 393.80 324.38 395.30 327.70C396.80 331.02 399.22 336.25 401.10 340.40C402.98 344.55 404.77 349.47 406.60 352.60C408.43 355.73 410.15 357.38 412.10 359.20C414.05 361.02 416.27 362.28 418.30 363.50C420.33 364.72 422.35 365.50 424.30 366.50C426.25 367.50 426.37 368.37 430.00 369.50C433.63 370.63 440.73 372.13 446.10 373.30C451.47 374.47 456.72 375.08 462.20 376.50C467.68 377.92 472.52 380.00 479.00 381.80C485.48 383.60 495.65 385.32 501.10 387.30C506.55 389.28 508.87 391.22 511.70 393.70C514.53 396.18 516.33 399.20 518.10 402.20C519.87 405.20 520.90 408.00 522.30 411.70C523.70 415.40 525.80 422.28 526.50 424.40" stroke="#800000" stroke-width="1.25" fill="none" stroke-linejoin="round"/>
<path d="M379.50 424.40L379.60 370.00C380.00 369.58 380.27 368.73 382.00 367.50C383.73 366.27 386.82 365.08 390.00 362.60C393.18 360.12 397.42 355.92 401.10 352.60C404.78 349.28 409.15 345.73 412.10 342.70C415.05 339.67 416.40 336.80 418.80 334.40C421.20 332.00 422.97 330.07 426.50 328.30C430.03 326.53 435.38 325.88 440.00 323.80C444.62 321.72 449.80 318.05 454.20 315.80C458.60 313.55 462.35 312.53 466.40 310.30C470.45 308.07 474.52 305.05 478.50 302.40C482.48 299.75 486.32 296.88 490.30 294.40C494.28 291.92 498.82 289.75 502.40 287.50C505.98 285.25 509.62 282.48 511.80 280.90C513.98 279.32 514.88 278.48 515.50 278.00L530.00 278.00" stroke="#800000" stroke-width="1.25" fill="none" stroke-linejoin="round"/>
<path d="M379.50 278.00L379.60 292.00C379.83 292.17 380.27 291.58 381.00 293.00C381.73 294.42 382.83 297.58 384.00 300.50C385.17 303.42 386.83 307.58 388.00 310.50C389.17 313.42 389.98 315.13 391.00 318.00C392.02 320.87 392.80 324.52 394.10 327.70C395.40 330.88 397.58 334.22 398.80 337.10C400.02 339.98 400.47 342.60 401.40 345.00C402.33 347.40 403.17 348.75 404.40 351.50C405.63 354.25 407.50 359.23 408.80 361.50C410.10 363.77 411.10 364.18 412.20 365.10C413.30 366.02 413.57 366.18 415.40 367.00C417.23 367.82 420.77 369.00 423.20 370.00C425.63 371.00 426.18 371.92 430.00 373.00C433.82 374.08 440.73 375.23 446.10 376.50C451.47 377.77 456.72 379.02 462.20 380.60C467.68 382.18 473.92 384.35 479.00 386.00C484.08 387.65 489.02 389.08 492.70 390.50C496.38 391.92 498.63 392.38 501.10 394.50C503.57 396.62 505.55 399.98 507.50 403.20C509.45 406.42 511.22 410.27 512.80 413.80C514.38 417.33 516.30 422.63 517.00 424.40" stroke="#ff0080" stroke-width="1.25" fill="none" stroke-linejoin="round"/>
<path d="M379.50 424.40L379.60 370.00C380.00 369.50 380.27 368.42 382.00 367.00C383.73 365.58 386.82 364.08 390.00 361.50C393.18 358.92 397.78 354.83 401.10 351.50C404.42 348.17 407.33 344.82 409.90 341.50C412.47 338.18 414.28 333.98 416.50 331.60C418.72 329.22 420.25 328.68 423.20 327.20C426.15 325.72 431.05 324.07 434.20 322.70C437.35 321.33 438.77 320.47 442.10 319.00C445.43 317.53 450.15 315.75 454.20 313.90C458.25 312.05 462.35 310.32 466.40 307.90C470.45 305.48 474.52 302.27 478.50 299.40C482.48 296.53 486.32 293.35 490.30 290.70C494.28 288.05 499.52 285.20 502.40 283.50C505.28 281.80 506.23 281.42 507.60 280.50C508.97 279.58 510.10 278.42 510.60 278.00L522.00 278.00" stroke="#ff0080" stroke-width="1.25" fill="none" stroke-linejoin="round"/></g>
<rect x="575.0" y="333.2" width="64.60" height="116.80" fill="#fff" stroke="#3a3a3a" stroke-width="1.3"/>
<path d="M580.50 343.40H604.10" stroke="#ff0000" stroke-width="1.15"/>
<text transform="translate(608.00,347.30) scale(1,1.07)" font-size="11.2">1st</text>
<path d="M580.50 357.15H604.10" stroke="#0000ff" stroke-width="1.15"/>
<text transform="translate(608.00,361.05) scale(1,1.07)" font-size="11.2">2nd</text>
<path d="M580.50 370.90H604.10" stroke="#28a0a0" stroke-width="1.15"/>
<text transform="translate(608.00,374.80) scale(1,1.07)" font-size="11.2">25th</text>
<path d="M580.50 384.65H604.10" stroke="#ff00ff" stroke-width="1.15"/>
<text transform="translate(608.00,388.55) scale(1,1.07)" font-size="11.2">50th</text>
<path d="M580.50 398.40H604.10" stroke="#808000" stroke-width="1.15"/>
<text transform="translate(608.00,402.30) scale(1,1.07)" font-size="11.2">75th</text>
<path d="M580.50 412.15H604.10" stroke="#000080" stroke-width="1.15"/>
<text transform="translate(608.00,416.05) scale(1,1.07)" font-size="11.2">100th</text>
<path d="M580.50 425.90H604.10" stroke="#800000" stroke-width="1.15"/>
<text transform="translate(608.00,429.80) scale(1,1.07)" font-size="11.2">125th</text>
<path d="M580.50 439.65H604.10" stroke="#ff0080" stroke-width="1.15"/>
<text transform="translate(608.00,443.55) scale(1,1.07)" font-size="11.2">150th</text>
<text transform="translate(527.3,328.3) scale(1,1.07)" font-size="10.8">Initial Activation</text>
<path d="M562.80 316.40L555.13 296.34" stroke="#1a1a1a" stroke-width="1.05" fill="none"/><path d="M553.70 292.60L557.07 296.66L553.90 297.88Z" fill="#1a1a1a"/>
<path d="M559.20 330.80L539.93 357.75" stroke="#1a1a1a" stroke-width="1.05" fill="none"/><path d="M537.60 361.00L539.13 355.94L541.89 357.92Z" fill="#1a1a1a"/>
<path d="M492.80 361.20L473.01 382.66" stroke="#1a1a1a" stroke-width="1.05" fill="none"/><path d="M470.30 385.60L472.44 380.77L474.94 383.08Z" fill="#1a1a1a"/>
<text transform="translate(493.7,362.0) scale(1,1.07)" font-size="10.5">1st</text>
<text transform="translate(454.2,396.7) scale(1,1.07)" font-size="10.5">150th</text>
<rect x="378.90" y="254.70" width="262.40" height="196.10" fill="none" stroke="#484848" stroke-width="1.6"/>
<path d="M378.90 450.80v3.9M395.30 450.80v2.4M411.70 450.80v3.9M428.10 450.80v2.4M444.50 450.80v3.9M460.90 450.80v2.4M477.30 450.80v3.9M493.70 450.80v2.4M510.10 450.80v3.9M526.50 450.80v2.4M542.90 450.80v3.9M559.30 450.80v2.4M575.70 450.80v3.9M592.10 450.80v2.4M608.50 450.80v3.9M624.90 450.80v2.4M641.30 450.80v3.9M378.90 450.80h-3.9M378.90 437.70h-2.4M378.90 424.60h-3.9M378.90 411.50h-2.4M378.90 398.40h-3.9M378.90 385.30h-2.4M378.90 372.20h-3.9M378.90 359.10h-2.4M378.90 346.00h-3.9M378.90 332.90h-2.4M378.90 319.80h-3.9M378.90 306.70h-2.4M378.90 293.60h-3.9M378.90 280.50h-2.4M378.90 267.40h-3.9" stroke="#2a2a2a" stroke-width="1.2" fill="none"/>
<path d="M379.8 278.0V424.9" stroke="#ff0080" stroke-width="1.7" fill="none"/>
<path d="M379.8 416.9V424.9" stroke="#c02080" stroke-width="1.7" fill="none"/>
<g font-size="11.2"><text transform="translate(378.90,465.70) scale(1,1.08)" text-anchor="middle">0</text><text transform="translate(411.70,465.70) scale(1,1.08)" text-anchor="middle">50</text><text transform="translate(444.50,465.70) scale(1,1.08)" text-anchor="middle">100</text><text transform="translate(477.30,465.70) scale(1,1.08)" text-anchor="middle">150</text><text transform="translate(510.10,465.70) scale(1,1.08)" text-anchor="middle">200</text><text transform="translate(542.90,465.70) scale(1,1.08)" text-anchor="middle">250</text><text transform="translate(575.70,465.70) scale(1,1.08)" text-anchor="middle">300</text><text transform="translate(608.50,465.70) scale(1,1.08)" text-anchor="middle">350</text><text transform="translate(641.30,465.70) scale(1,1.08)" text-anchor="middle">400</text><text transform="translate(372.50,454.90) scale(1,1.08)" text-anchor="end">1.5</text><text transform="translate(372.50,428.70) scale(1,1.08)" text-anchor="end">2.0</text><text transform="translate(372.50,402.50) scale(1,1.08)" text-anchor="end">2.5</text><text transform="translate(372.50,376.30) scale(1,1.08)" text-anchor="end">3.0</text><text transform="translate(372.50,350.10) scale(1,1.08)" text-anchor="end">3.5</text><text transform="translate(372.50,323.90) scale(1,1.08)" text-anchor="end">4.0</text><text transform="translate(372.50,297.70) scale(1,1.08)" text-anchor="end">4.5</text><text transform="translate(372.50,271.50) scale(1,1.08)" text-anchor="end">5.0</text></g>
<text transform="translate(347.8,454.2) rotate(-90) scale(1.06,1)" font-size="18.4">Potential (V vs. Li/Li<tspan font-size="11" dy="-12" dx="-0.1">+</tspan><tspan dy="12" dx="-0.4">)</tspan></text>
<text transform="translate(401.0,490.1) scale(1,1.05)" font-size="19.1">Specific capacity (mAh g<tspan font-size="12.5" dy="-8.5">-1</tspan><tspan dy="8.5">)</tspan></text>
<text font-size="21" transform="translate(383.2,275.7) scale(1.02,0.98)">(d)</text>
<path d="M657.8 493.4L660 491.3V495.5Z" fill="#777"/>
<path d="M359 495h2.2M367 495h5" stroke="#ddd" stroke-width="0.8"/>
</svg></body></html>
